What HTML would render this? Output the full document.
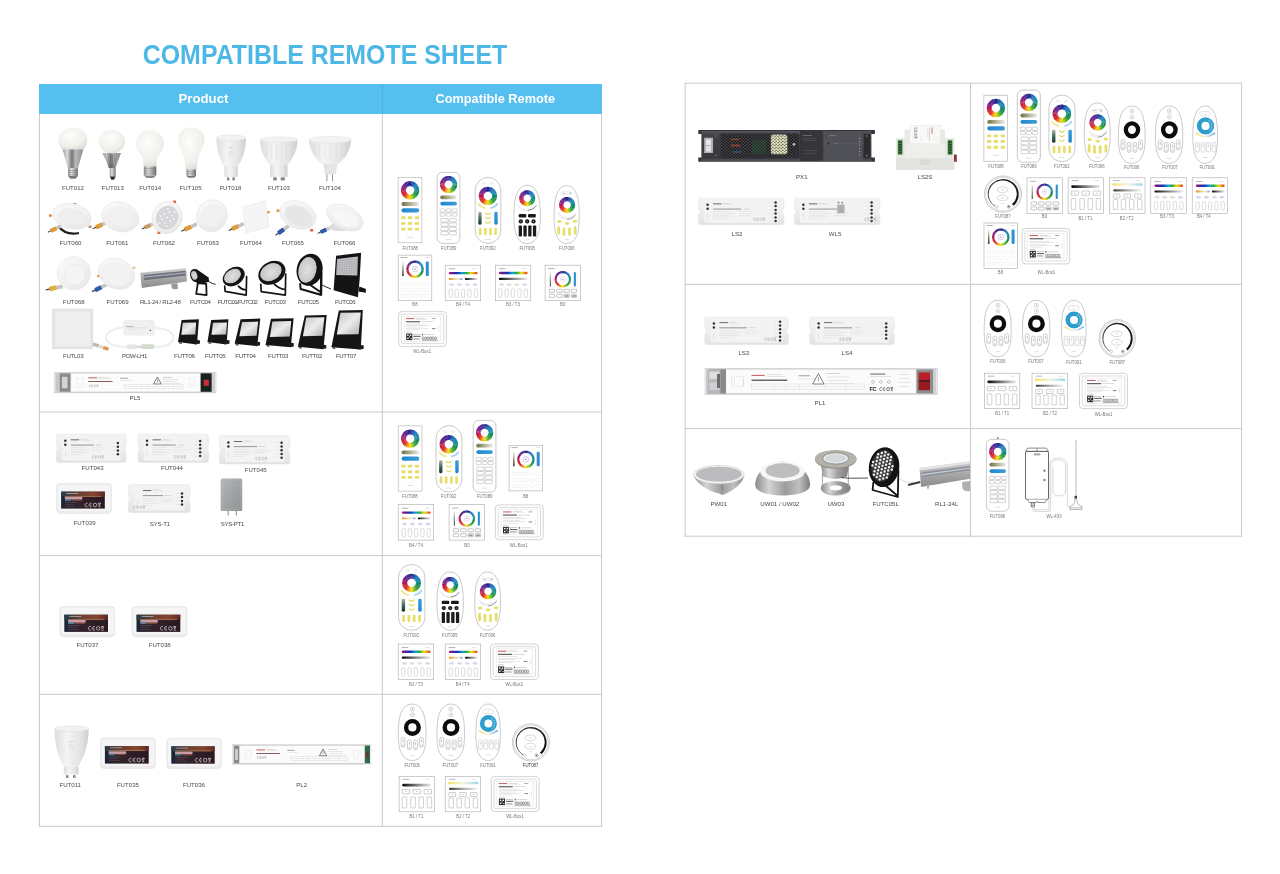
<!DOCTYPE html><html><head><meta charset="utf-8"><title>Compatible Remote Sheet</title><style>html,body{margin:0;padding:0;background:#fff;overflow:hidden}svg{display:block;will-change:transform;opacity:.999}text{font-family:"Liberation Sans",sans-serif}</style></head><body><svg width="1280" height="874" viewBox="0 0 1280 874"><defs><symbol id="w" overflow="visible"><path d="M-0.010,-1.000A1,1 0 0 1 0.183,-0.983L0.084,-0.452A0.46,0.46 0 0 0 -0.005,-0.460Z" fill="#1c298d"/><path d="M0.164,-0.986A1,1 0 0 1 0.351,-0.936L0.162,-0.431A0.46,0.46 0 0 0 0.075,-0.454Z" fill="#1b3d9b"/><path d="M0.333,-0.943A1,1 0 0 1 0.509,-0.861L0.234,-0.396A0.46,0.46 0 0 0 0.153,-0.434Z" fill="#1a50a8"/><path d="M0.491,-0.871A1,1 0 0 1 0.650,-0.760L0.299,-0.349A0.46,0.46 0 0 0 0.226,-0.401Z" fill="#1964b6"/><path d="M0.635,-0.772A1,1 0 0 1 0.772,-0.635L0.355,-0.292A0.46,0.46 0 0 0 0.292,-0.355Z" fill="#1878c4"/><path d="M0.760,-0.650A1,1 0 0 1 0.871,-0.491L0.401,-0.226A0.46,0.46 0 0 0 0.349,-0.299Z" fill="#157eb7"/><path d="M0.861,-0.509A1,1 0 0 1 0.943,-0.333L0.434,-0.153A0.46,0.46 0 0 0 0.396,-0.234Z" fill="#1383ab"/><path d="M0.936,-0.351A1,1 0 0 1 0.986,-0.164L0.454,-0.075A0.46,0.46 0 0 0 0.431,-0.162Z" fill="#10899e"/><path d="M0.983,-0.183A1,1 0 0 1 1.000,0.010L0.460,0.005A0.46,0.46 0 0 0 0.452,-0.084Z" fill="#0f8b8c"/><path d="M1.000,-0.010A1,1 0 0 1 0.983,0.183L0.452,0.084A0.46,0.46 0 0 0 0.460,-0.005Z" fill="#0e8874"/><path d="M0.986,0.164A1,1 0 0 1 0.936,0.351L0.431,0.162A0.46,0.46 0 0 0 0.454,0.075Z" fill="#0d855c"/><path d="M0.943,0.333A1,1 0 0 1 0.861,0.509L0.396,0.234A0.46,0.46 0 0 0 0.434,0.153Z" fill="#12894a"/><path d="M0.871,0.491A1,1 0 0 1 0.760,0.650L0.349,0.299A0.46,0.46 0 0 0 0.401,0.226Z" fill="#1d923e"/><path d="M0.772,0.635A1,1 0 0 1 0.635,0.772L0.292,0.355A0.46,0.46 0 0 0 0.355,0.292Z" fill="#289b32"/><path d="M0.650,0.760A1,1 0 0 1 0.491,0.871L0.226,0.401A0.46,0.46 0 0 0 0.299,0.349Z" fill="#44a829"/><path d="M0.509,0.861A1,1 0 0 1 0.333,0.943L0.153,0.434A0.46,0.46 0 0 0 0.234,0.396Z" fill="#70b824"/><path d="M0.351,0.936A1,1 0 0 1 0.164,0.986L0.075,0.454A0.46,0.46 0 0 0 0.162,0.431Z" fill="#9cc81e"/><path d="M0.183,0.983A1,1 0 0 1 -0.010,1.000L-0.005,0.460A0.46,0.46 0 0 0 0.084,0.452Z" fill="#d8db17"/><path d="M0.010,1.000A1,1 0 0 1 -0.183,0.983L-0.084,0.452A0.46,0.46 0 0 0 0.005,0.460Z" fill="#f6d314"/><path d="M-0.164,0.986A1,1 0 0 1 -0.351,0.936L-0.162,0.431A0.46,0.46 0 0 0 -0.075,0.454Z" fill="#f6b113"/><path d="M-0.333,0.943A1,1 0 0 1 -0.509,0.861L-0.234,0.396A0.46,0.46 0 0 0 -0.153,0.434Z" fill="#f28813"/><path d="M-0.491,0.871A1,1 0 0 1 -0.650,0.760L-0.299,0.349A0.46,0.46 0 0 0 -0.226,0.401Z" fill="#e95816"/><path d="M-0.635,0.772A1,1 0 0 1 -0.772,0.635L-0.355,0.292A0.46,0.46 0 0 0 -0.292,0.355Z" fill="#e02818"/><path d="M-0.760,0.650A1,1 0 0 1 -0.871,0.491L-0.401,0.226A0.46,0.46 0 0 0 -0.349,0.299Z" fill="#d72225"/><path d="M-0.861,0.509A1,1 0 0 1 -0.943,0.333L-0.434,0.153A0.46,0.46 0 0 0 -0.396,0.234Z" fill="#ce1d31"/><path d="M-0.936,0.351A1,1 0 0 1 -0.986,0.164L-0.454,0.075A0.46,0.46 0 0 0 -0.431,0.162Z" fill="#c5173e"/><path d="M-0.983,0.183A1,1 0 0 1 -1.000,-0.010L-0.460,-0.005A0.46,0.46 0 0 0 -0.452,0.084Z" fill="#b8154d"/><path d="M-1.000,0.010A1,1 0 0 1 -0.983,-0.183L-0.452,-0.084A0.46,0.46 0 0 0 -0.460,0.005Z" fill="#a7175e"/><path d="M-0.986,-0.164A1,1 0 0 1 -0.936,-0.351L-0.431,-0.162A0.46,0.46 0 0 0 -0.454,-0.075Z" fill="#96196f"/><path d="M-0.943,-0.333A1,1 0 0 1 -0.861,-0.509L-0.396,-0.234A0.46,0.46 0 0 0 -0.434,-0.153Z" fill="#851a7c"/><path d="M-0.871,-0.491A1,1 0 0 1 -0.760,-0.650L-0.349,-0.299A0.46,0.46 0 0 0 -0.401,-0.226Z" fill="#731b83"/><path d="M-0.772,-0.635A1,1 0 0 1 -0.635,-0.772L-0.292,-0.355A0.46,0.46 0 0 0 -0.355,-0.292Z" fill="#611c8b"/><path d="M-0.650,-0.760A1,1 0 0 1 -0.491,-0.871L-0.226,-0.401A0.46,0.46 0 0 0 -0.299,-0.349Z" fill="#4f1d92"/><path d="M-0.509,-0.861A1,1 0 0 1 -0.333,-0.943L-0.153,-0.434A0.46,0.46 0 0 0 -0.234,-0.396Z" fill="#401e8f"/><path d="M-0.351,-0.936A1,1 0 0 1 -0.164,-0.986L-0.075,-0.454A0.46,0.46 0 0 0 -0.162,-0.431Z" fill="#321e8b"/><path d="M-0.183,-0.983A1,1 0 0 1 0.010,-1.000L0.005,-0.460A0.46,0.46 0 0 0 -0.084,-0.452Z" fill="#231f88"/></symbol>
<symbol id="wt" overflow="visible"><path d="M-0.010,-1.000A1,1 0 0 1 0.183,-0.983L0.136,-0.727A0.74,0.74 0 0 0 -0.007,-0.740Z" fill="#1c298d"/><path d="M0.164,-0.986A1,1 0 0 1 0.351,-0.936L0.260,-0.693A0.74,0.74 0 0 0 0.121,-0.730Z" fill="#1b3d9b"/><path d="M0.333,-0.943A1,1 0 0 1 0.509,-0.861L0.376,-0.637A0.74,0.74 0 0 0 0.246,-0.698Z" fill="#1a50a8"/><path d="M0.491,-0.871A1,1 0 0 1 0.650,-0.760L0.481,-0.562A0.74,0.74 0 0 0 0.364,-0.645Z" fill="#1964b6"/><path d="M0.635,-0.772A1,1 0 0 1 0.772,-0.635L0.572,-0.470A0.74,0.74 0 0 0 0.470,-0.572Z" fill="#1878c4"/><path d="M0.760,-0.650A1,1 0 0 1 0.871,-0.491L0.645,-0.364A0.74,0.74 0 0 0 0.562,-0.481Z" fill="#157eb7"/><path d="M0.861,-0.509A1,1 0 0 1 0.943,-0.333L0.698,-0.246A0.74,0.74 0 0 0 0.637,-0.376Z" fill="#1383ab"/><path d="M0.936,-0.351A1,1 0 0 1 0.986,-0.164L0.730,-0.121A0.74,0.74 0 0 0 0.693,-0.260Z" fill="#10899e"/><path d="M0.983,-0.183A1,1 0 0 1 1.000,0.010L0.740,0.007A0.74,0.74 0 0 0 0.727,-0.136Z" fill="#0f8b8c"/><path d="M1.000,-0.010A1,1 0 0 1 0.983,0.183L0.727,0.136A0.74,0.74 0 0 0 0.740,-0.007Z" fill="#0e8874"/><path d="M0.986,0.164A1,1 0 0 1 0.936,0.351L0.693,0.260A0.74,0.74 0 0 0 0.730,0.121Z" fill="#0d855c"/><path d="M0.943,0.333A1,1 0 0 1 0.861,0.509L0.637,0.376A0.74,0.74 0 0 0 0.698,0.246Z" fill="#12894a"/><path d="M0.871,0.491A1,1 0 0 1 0.760,0.650L0.562,0.481A0.74,0.74 0 0 0 0.645,0.364Z" fill="#1d923e"/><path d="M0.772,0.635A1,1 0 0 1 0.635,0.772L0.470,0.572A0.74,0.74 0 0 0 0.572,0.470Z" fill="#289b32"/><path d="M0.650,0.760A1,1 0 0 1 0.491,0.871L0.364,0.645A0.74,0.74 0 0 0 0.481,0.562Z" fill="#44a829"/><path d="M0.509,0.861A1,1 0 0 1 0.333,0.943L0.246,0.698A0.74,0.74 0 0 0 0.376,0.637Z" fill="#70b824"/><path d="M0.351,0.936A1,1 0 0 1 0.164,0.986L0.121,0.730A0.74,0.74 0 0 0 0.260,0.693Z" fill="#9cc81e"/><path d="M0.183,0.983A1,1 0 0 1 -0.010,1.000L-0.007,0.740A0.74,0.74 0 0 0 0.136,0.727Z" fill="#d8db17"/><path d="M0.010,1.000A1,1 0 0 1 -0.183,0.983L-0.136,0.727A0.74,0.74 0 0 0 0.007,0.740Z" fill="#f6d314"/><path d="M-0.164,0.986A1,1 0 0 1 -0.351,0.936L-0.260,0.693A0.74,0.74 0 0 0 -0.121,0.730Z" fill="#f6b113"/><path d="M-0.333,0.943A1,1 0 0 1 -0.509,0.861L-0.376,0.637A0.74,0.74 0 0 0 -0.246,0.698Z" fill="#f28813"/><path d="M-0.491,0.871A1,1 0 0 1 -0.650,0.760L-0.481,0.562A0.74,0.74 0 0 0 -0.364,0.645Z" fill="#e95816"/><path d="M-0.635,0.772A1,1 0 0 1 -0.772,0.635L-0.572,0.470A0.74,0.74 0 0 0 -0.470,0.572Z" fill="#e02818"/><path d="M-0.760,0.650A1,1 0 0 1 -0.871,0.491L-0.645,0.364A0.74,0.74 0 0 0 -0.562,0.481Z" fill="#d72225"/><path d="M-0.861,0.509A1,1 0 0 1 -0.943,0.333L-0.698,0.246A0.74,0.74 0 0 0 -0.637,0.376Z" fill="#ce1d31"/><path d="M-0.936,0.351A1,1 0 0 1 -0.986,0.164L-0.730,0.121A0.74,0.74 0 0 0 -0.693,0.260Z" fill="#c5173e"/><path d="M-0.983,0.183A1,1 0 0 1 -1.000,-0.010L-0.740,-0.007A0.74,0.74 0 0 0 -0.727,0.136Z" fill="#b8154d"/><path d="M-1.000,0.010A1,1 0 0 1 -0.983,-0.183L-0.727,-0.136A0.74,0.74 0 0 0 -0.740,0.007Z" fill="#a7175e"/><path d="M-0.986,-0.164A1,1 0 0 1 -0.936,-0.351L-0.693,-0.260A0.74,0.74 0 0 0 -0.730,-0.121Z" fill="#96196f"/><path d="M-0.943,-0.333A1,1 0 0 1 -0.861,-0.509L-0.637,-0.376A0.74,0.74 0 0 0 -0.698,-0.246Z" fill="#851a7c"/><path d="M-0.871,-0.491A1,1 0 0 1 -0.760,-0.650L-0.562,-0.481A0.74,0.74 0 0 0 -0.645,-0.364Z" fill="#731b83"/><path d="M-0.772,-0.635A1,1 0 0 1 -0.635,-0.772L-0.470,-0.572A0.74,0.74 0 0 0 -0.572,-0.470Z" fill="#611c8b"/><path d="M-0.650,-0.760A1,1 0 0 1 -0.491,-0.871L-0.364,-0.645A0.74,0.74 0 0 0 -0.481,-0.562Z" fill="#4f1d92"/><path d="M-0.509,-0.861A1,1 0 0 1 -0.333,-0.943L-0.246,-0.698A0.74,0.74 0 0 0 -0.376,-0.637Z" fill="#401e8f"/><path d="M-0.351,-0.936A1,1 0 0 1 -0.164,-0.986L-0.121,-0.730A0.74,0.74 0 0 0 -0.260,-0.693Z" fill="#321e8b"/><path d="M-0.183,-0.983A1,1 0 0 1 0.010,-1.000L0.007,-0.740A0.74,0.74 0 0 0 -0.136,-0.727Z" fill="#231f88"/></symbol>

<linearGradient id="gOl" x1="0" x2="1" y1="0" y2="0"><stop offset="0" stop-color="#6d6d44"/><stop offset=".55" stop-color="#b9b9a0"/><stop offset="1" stop-color="#ecece8"/></linearGradient>
<linearGradient id="gBl" x1="0" x2="1" y1="0" y2="0"><stop offset="0" stop-color="#1f86cf"/><stop offset="1" stop-color="#3d9fd8"/></linearGradient>
<linearGradient id="gOlV" x1="0" x2="0" y1="0" y2="1"><stop offset="0" stop-color="#bcb49c"/><stop offset=".5" stop-color="#3f6c5c"/><stop offset="1" stop-color="#1c2c24"/></linearGradient>
<linearGradient id="gBlV" x1="0" x2="0" y1="0" y2="1"><stop offset="0" stop-color="#3d9fd8"/><stop offset="1" stop-color="#1f86cf"/></linearGradient>
<linearGradient id="gYB" x1="0" x2="1" y1="0" y2="0"><stop offset="0" stop-color="#f3e77a"/><stop offset=".5" stop-color="#f4f2e4"/><stop offset="1" stop-color="#6fb4e6"/></linearGradient>

<symbol id="r088" overflow="visible"><rect x="0" y="0" width="23.8" height="65.2" fill="#fff" stroke="#a6a6ac" stroke-width="0.55"/><use href="#w" transform="translate(12,12.7) scale(9.1)"/><rect x="3.4" y="24.5" width="17.7" height="3.8" rx="1.9" fill="url(#gOl)"/><rect x="3.4" y="30.7" width="17.7" height="4.1" rx="2" fill="url(#gBl)"/><rect x="3.0500000000000003" y="38.75" width="4.3" height="2.9" rx="0.7" fill="#e6de68"/><rect x="9.75" y="38.75" width="4.3" height="2.9" rx="0.7" fill="#e6de68"/><rect x="16.75" y="38.75" width="4.3" height="2.9" rx="0.7" fill="#e6de68"/><rect x="3.0500000000000003" y="44.349999999999994" width="4.3" height="2.9" rx="0.7" fill="#e6de68"/><rect x="9.75" y="44.349999999999994" width="4.3" height="2.9" rx="0.7" fill="#e6de68"/><rect x="16.75" y="44.349999999999994" width="4.3" height="2.9" rx="0.7" fill="#e6de68"/><rect x="3.0500000000000003" y="50.05" width="4.3" height="2.9" rx="0.7" fill="#e6de68"/><rect x="9.75" y="50.05" width="4.3" height="2.9" rx="0.7" fill="#e6de68"/><rect x="16.75" y="50.05" width="4.3" height="2.9" rx="0.7" fill="#e6de68"/><rect x="8.80" y="59.30" width="6.4" height="0.6" fill="#cdcdd2"/></symbol>
<symbol id="r089" overflow="visible"><rect x="0" y="0" width="22.7" height="71.1" rx="5.2" fill="#fff" stroke="#a6a6ac" stroke-width="0.6"/><use href="#w" transform="translate(11.4,12.2) scale(8.6)"/><rect x="3.1" y="23.1" width="16.6" height="3.8" rx="1.9" fill="url(#gOl)"/><rect x="3.1" y="29.5" width="16.6" height="3.7" rx="1.8" fill="url(#gBl)"/><rect x="2.9000000000000004" y="36.6" width="5" height="3.2" rx="0.9" fill="#fff" stroke="#9e9e9e" stroke-width="0.45"/><rect x="8.9" y="36.6" width="5" height="3.2" rx="0.9" fill="#fff" stroke="#9e9e9e" stroke-width="0.45"/><rect x="14.899999999999999" y="36.6" width="5" height="3.2" rx="0.9" fill="#fff" stroke="#9e9e9e" stroke-width="0.45"/><rect x="2.9000000000000004" y="40.699999999999996" width="5" height="3.2" rx="0.9" fill="#fff" stroke="#9e9e9e" stroke-width="0.45"/><rect x="8.9" y="40.699999999999996" width="5" height="3.2" rx="0.9" fill="#fff" stroke="#9e9e9e" stroke-width="0.45"/><rect x="14.899999999999999" y="40.699999999999996" width="5" height="3.2" rx="0.9" fill="#fff" stroke="#9e9e9e" stroke-width="0.45"/><rect x="3.6999999999999997" y="46.3" width="7.2" height="3.4" rx="0.5" fill="#fff" stroke="#9e9e9e" stroke-width="0.45"/><rect x="11.9" y="46.3" width="7.2" height="3.4" rx="0.5" fill="#fff" stroke="#9e9e9e" stroke-width="0.45"/><rect x="3.6999999999999997" y="50.599999999999994" width="7.2" height="3.4" rx="0.5" fill="#fff" stroke="#9e9e9e" stroke-width="0.45"/><rect x="11.9" y="50.599999999999994" width="7.2" height="3.4" rx="0.5" fill="#fff" stroke="#9e9e9e" stroke-width="0.45"/><rect x="3.6999999999999997" y="54.9" width="7.2" height="3.4" rx="0.5" fill="#fff" stroke="#9e9e9e" stroke-width="0.45"/><rect x="11.9" y="54.9" width="7.2" height="3.4" rx="0.5" fill="#fff" stroke="#9e9e9e" stroke-width="0.45"/><rect x="3.6999999999999997" y="59.199999999999996" width="7.2" height="3.4" rx="0.5" fill="#fff" stroke="#9e9e9e" stroke-width="0.45"/><rect x="11.9" y="59.199999999999996" width="7.2" height="3.4" rx="0.5" fill="#fff" stroke="#9e9e9e" stroke-width="0.45"/><rect x="8.60" y="66.70" width="5.6000000000000005" height="0.6" fill="#cdcdd2"/></symbol>
<symbol id="r086" overflow="visible"><rect x="10.6" y="-2" width="1.5" height="2.2" rx="0.5" fill="#777"/><rect x="0" y="0" width="22.7" height="71.1" rx="5.2" fill="#fff" stroke="#a6a6ac" stroke-width="0.6"/><use href="#w" transform="translate(11.4,12.2) scale(8.6)"/><rect x="3.1" y="23.1" width="16.6" height="3.8" rx="1.9" fill="url(#gOl)"/><rect x="3.1" y="29.5" width="16.6" height="3.7" rx="1.8" fill="url(#gBl)"/><rect x="2.9000000000000004" y="36.6" width="5" height="3.2" rx="0.9" fill="#fff" stroke="#9e9e9e" stroke-width="0.45"/><rect x="8.9" y="36.6" width="5" height="3.2" rx="0.9" fill="#fff" stroke="#9e9e9e" stroke-width="0.45"/><rect x="14.899999999999999" y="36.6" width="5" height="3.2" rx="0.9" fill="#fff" stroke="#9e9e9e" stroke-width="0.45"/><rect x="2.9000000000000004" y="40.699999999999996" width="5" height="3.2" rx="0.9" fill="#fff" stroke="#9e9e9e" stroke-width="0.45"/><rect x="8.9" y="40.699999999999996" width="5" height="3.2" rx="0.9" fill="#fff" stroke="#9e9e9e" stroke-width="0.45"/><rect x="14.899999999999999" y="40.699999999999996" width="5" height="3.2" rx="0.9" fill="#fff" stroke="#9e9e9e" stroke-width="0.45"/><rect x="3.6999999999999997" y="46.3" width="7.2" height="3.4" rx="0.5" fill="#fff" stroke="#9e9e9e" stroke-width="0.45"/><rect x="11.9" y="46.3" width="7.2" height="3.4" rx="0.5" fill="#fff" stroke="#9e9e9e" stroke-width="0.45"/><rect x="3.6999999999999997" y="50.599999999999994" width="7.2" height="3.4" rx="0.5" fill="#fff" stroke="#9e9e9e" stroke-width="0.45"/><rect x="11.9" y="50.599999999999994" width="7.2" height="3.4" rx="0.5" fill="#fff" stroke="#9e9e9e" stroke-width="0.45"/><rect x="3.6999999999999997" y="54.9" width="7.2" height="3.4" rx="0.5" fill="#fff" stroke="#9e9e9e" stroke-width="0.45"/><rect x="11.9" y="54.9" width="7.2" height="3.4" rx="0.5" fill="#fff" stroke="#9e9e9e" stroke-width="0.45"/><rect x="3.6999999999999997" y="59.199999999999996" width="7.2" height="3.4" rx="0.5" fill="#fff" stroke="#9e9e9e" stroke-width="0.45"/><rect x="11.9" y="59.199999999999996" width="7.2" height="3.4" rx="0.5" fill="#fff" stroke="#9e9e9e" stroke-width="0.45"/><rect x="8.60" y="66.70" width="5.6000000000000005" height="0.6" fill="#cdcdd2"/></symbol>
<symbol id="r092" overflow="visible"><rect x="0" y="0" width="25.6" height="66" rx="12.8" fill="#fff" stroke="#a6a6ac" stroke-width="0.6"/><ellipse cx="8.9" cy="6" rx="1.7" ry="0.8" fill="none" stroke="#c8c8c8" stroke-width="0.4"/><ellipse cx="16.6" cy="6" rx="1.7" ry="0.8" fill="none" stroke="#c8c8c8" stroke-width="0.4"/><use href="#w" transform="translate(12.7,18.5) scale(9.1)"/><path d="M3.2,26.3Q5.2,29.6 9.6,30.6" fill="none" stroke="#f1e88c" stroke-width="1.7" stroke-linecap="round"/><path d="M15.8,30.6Q20.2,29.6 22.2,26.3" fill="none" stroke="#a9d3f1" stroke-width="1.7" stroke-linecap="round"/><rect x="3.1" y="34.3" width="3.3" height="13" rx="1.4" fill="url(#gOlV)"/><rect x="19.1" y="34.3" width="3.4" height="13" rx="1.4" fill="url(#gBlV)"/><path d="M10.399999999999999,35.6Q12.7,38.0 15.0,35.6" fill="none" stroke="#e2d84e" stroke-width="1.15" stroke-linecap="round"/><path d="M10.399999999999999,40.0Q12.7,42.4 15.0,40.0" fill="none" stroke="#e2d84e" stroke-width="1.15" stroke-linecap="round"/><path d="M10.399999999999999,44.6Q12.7,47.0 15.0,44.6" fill="none" stroke="#e2d84e" stroke-width="1.15" stroke-linecap="round"/><rect x="3.7" y="50.3" width="2.6" height="7.5" rx="1.3" fill="#e6de68"/><rect x="8.799999999999999" y="50.3" width="2.6" height="7.5" rx="1.3" fill="#e6de68"/><rect x="13.899999999999999" y="50.3" width="2.6" height="7.5" rx="1.3" fill="#e6de68"/><rect x="19.099999999999998" y="50.3" width="2.6" height="7.5" rx="1.3" fill="#e6de68"/><rect x="9.90" y="61.70" width="5.6000000000000005" height="0.6" fill="#cdcdd2"/></symbol>
<symbol id="r095" overflow="visible"><path d="M13.15,0 C20.777,0 25.3795,8.176 26.0896,22.192 C26.6156,31.536 26.3,37.376 25.9055,40.879999999999995 C24.985,51.391999999999996 20.514000000000003,58.4 13.15,58.4 C5.786,58.4 1.3150000000000002,51.391999999999996 0.3945,40.879999999999995 C0,37.376 -0.3156,31.536 0.2104,22.192 C0.9205000000000001,8.176 5.523000000000001,0 13.15,0Z" fill="#fff" stroke="#a6a6ac" stroke-width="0.6"/><use href="#w" transform="translate(13.2,13) scale(8)"/><path d="M3.2,19.6Q8,26.2 14,25.2" fill="none" stroke="#c9c9d6" stroke-width="0.7"/><path d="M14,25.2Q19.5,24.6 22.6,20.2" fill="none" stroke="#4a4a4a" stroke-width="0.7"/><rect x="4.7" y="28.8" width="7.6" height="3.4" rx="1.2" fill="#1b1b1b"/><rect x="14" y="28.8" width="7.8" height="3.4" rx="1.2" fill="#1b1b1b"/><circle cx="6.8" cy="36.2" r="2.15" fill="#1b1b1b"/><circle cx="6.8" cy="36.2" r="0.6" fill="#888"/><circle cx="13.2" cy="36.2" r="2.15" fill="#1b1b1b"/><circle cx="13.2" cy="36.2" r="0.6" fill="#888"/><circle cx="19.5" cy="36.2" r="2.15" fill="#1b1b1b"/><circle cx="19.5" cy="36.2" r="0.6" fill="#888"/><rect x="4.7" y="40.2" width="3.3" height="11" rx="0.9" fill="#1b1b1b"/><rect x="9.4" y="40.2" width="3.3" height="11" rx="0.9" fill="#1b1b1b"/><rect x="14.2" y="40.2" width="3.3" height="11" rx="0.9" fill="#1b1b1b"/><rect x="18.9" y="40.2" width="3.3" height="11" rx="0.9" fill="#1b1b1b"/><rect x="10.80" y="54.30" width="4.800000000000001" height="0.6" fill="#cdcdd2"/></symbol>
<symbol id="r096" overflow="visible"><path d="M12.55,0 C19.829,0 24.2215,8.120000000000001 24.8992,22.04 C25.401200000000003,31.32 25.1,37.12 24.7235,40.599999999999994 C23.845,51.04 19.578000000000003,58 12.55,58 C5.521999999999999,58 1.2550000000000001,51.04 0.3765,40.599999999999994 C0,37.12 -0.3012,31.32 0.2008,22.04 C0.8785000000000002,8.120000000000001 5.271000000000001,0 12.55,0Z" fill="#fff" stroke="#a6a6ac" stroke-width="0.6"/><rect x="7" y="6.3" width="11" height="2.6" rx="1.3" fill="#fff" stroke="#c4c4c4" stroke-width="0.4"/><circle cx="16.2" cy="7.6" r="0.9" fill="#9cc4ee"/><rect x="9" y="7.3" width="2" height="0.6" fill="#d88"/><use href="#w" transform="translate(13,19.3) scale(8)"/><path d="M3.4,27.4Q8,32.6 13,32.4Q18,32.4 22,27.6" fill="none" stroke="#cfcfe0" stroke-width="0.6"/><path d="M5,30.6Q9,33.9 13,33.9" fill="none" stroke="#d8d8ea" stroke-width="0.6"/><path d="M13,33.9Q18,33.9 21.5,29.4" fill="none" stroke="#555" stroke-width="0.6"/><ellipse cx="5.2" cy="36" rx="2.2" ry="1.5" fill="#e6de68"/><ellipse cx="13" cy="37.8" rx="2.3" ry="1.4" fill="#e6de68"/><ellipse cx="20.9" cy="35.7" rx="2.2" ry="1.5" fill="#e6de68"/><rect x="3.35" y="40.7" width="2.7" height="8.4" rx="1.35" fill="#e6de68"/><rect x="8.55" y="41.8" width="2.7" height="8.4" rx="1.35" fill="#e6de68"/><rect x="14.05" y="41.8" width="2.7" height="8.4" rx="1.35" fill="#e6de68"/><rect x="19.65" y="40.7" width="2.7" height="8.4" rx="1.35" fill="#e6de68"/><rect x="10.60" y="53.50" width="4.800000000000001" height="0.6" fill="#cdcdd2"/></symbol>
<symbol id="r006" overflow="visible"><path d="M13.75,0 C21.725,0 26.537499999999998,7.910000000000001 27.28,21.47 C27.830000000000002,30.51 27.5,36.160000000000004 27.0875,39.55 C26.125,49.72 21.450000000000003,56.5 13.75,56.5 C6.049999999999999,56.5 1.375,49.72 0.4125,39.55 C0,36.160000000000004 -0.33,30.51 0.22,21.47 C0.9625000000000001,7.910000000000001 5.775,0 13.75,0Z" fill="#fff" stroke="#a6a6ac" stroke-width="0.6"/><circle cx="14" cy="5" r="2.1" fill="#fff" stroke="#aaa" stroke-width="0.45"/><circle cx="14" cy="10.9" r="2.1" fill="#fff" stroke="#aaa" stroke-width="0.45"/><rect x="13.7" y="4" width="0.6" height="2" fill="#999"/><rect x="13" y="10.6" width="2" height="0.6" fill="#999"/><circle cx="14" cy="23.4" r="6.3" fill="none" stroke="#0c0c0c" stroke-width="4.4"/><rect x="2.8000000000000003" y="33.4" width="3.8" height="9.7" rx="1.6" fill="#fff" stroke="#9a9a9a" stroke-width="0.5"/><rect x="4.4" y="35.6" width="0.6" height="2.6" fill="#999"/><rect x="3.3000000000000003" y="40.6" width="2.8" height="1.6" rx="0.8" fill="#ddd"/><rect x="9.0" y="35.9" width="3.8" height="9.7" rx="1.6" fill="#fff" stroke="#9a9a9a" stroke-width="0.5"/><rect x="10.6" y="38.1" width="0.6" height="2.6" fill="#999"/><rect x="9.5" y="43.1" width="2.8" height="1.6" rx="0.8" fill="#ddd"/><rect x="15.200000000000001" y="35.9" width="3.8" height="9.7" rx="1.6" fill="#fff" stroke="#9a9a9a" stroke-width="0.5"/><rect x="16.8" y="38.1" width="0.6" height="2.6" fill="#999"/><rect x="15.700000000000001" y="43.1" width="2.8" height="1.6" rx="0.8" fill="#ddd"/><rect x="21.0" y="33.4" width="3.8" height="9.7" rx="1.6" fill="#fff" stroke="#9a9a9a" stroke-width="0.5"/><rect x="22.599999999999998" y="35.6" width="0.6" height="2.6" fill="#999"/><rect x="21.5" y="40.6" width="2.8" height="1.6" rx="0.8" fill="#ddd"/><rect x="11.60" y="51.20" width="4.800000000000001" height="0.6" fill="#cdcdd2"/></symbol>
<symbol id="r091" overflow="visible"><path d="M12.2,0 C19.275999999999996,0 23.546,7.910000000000001 24.2048,21.47 C24.6928,30.51 24.4,36.160000000000004 24.034,39.55 C23.179999999999996,49.72 19.032,56.5 12.2,56.5 C5.367999999999999,56.5 1.22,49.72 0.366,39.55 C0,36.160000000000004 -0.2928,30.51 0.19519999999999998,21.47 C0.854,7.910000000000001 5.1240000000000006,0 12.2,0Z" fill="#fff" stroke="#a6a6ac" stroke-width="0.6"/><rect x="6.6" y="5.4" width="11" height="4.2" rx="2.1" fill="#fff" stroke="#c8c8c8" stroke-width="0.45"/><rect x="12" y="5.4" width="0.4" height="4.2" fill="#d0d0d0"/><circle cx="12.5" cy="19.6" r="6.25" fill="none" stroke="#2d9dcd" stroke-width="4.5"/><path d="M15.2,13.9A6.25,6.25 0 0 1 15.6,25" fill="none" stroke="#8fd0ea" stroke-width="1.6" stroke-dasharray="0.8 0.9"/><path d="M3.4,26.8Q12.2,33.4 21.4,26.8" fill="none" stroke="url(#gYB)" stroke-width="1.7" stroke-linecap="round"/><rect x="2.6" y="35.9" width="3.8" height="9.4" rx="1.5" fill="#fff" stroke="#b4b4b4" stroke-width="0.5"/><rect x="4.2" y="38" width="0.6" height="2.4" fill="#bbb"/><rect x="8.1" y="35.9" width="3.8" height="9.4" rx="1.5" fill="#fff" stroke="#b4b4b4" stroke-width="0.5"/><rect x="9.7" y="38" width="0.6" height="2.4" fill="#bbb"/><rect x="13.5" y="35.9" width="3.8" height="9.4" rx="1.5" fill="#fff" stroke="#b4b4b4" stroke-width="0.5"/><rect x="15.1" y="38" width="0.6" height="2.4" fill="#bbb"/><rect x="19.0" y="35.9" width="3.8" height="9.4" rx="1.5" fill="#fff" stroke="#b4b4b4" stroke-width="0.5"/><rect x="20.599999999999998" y="38" width="0.6" height="2.4" fill="#bbb"/><rect x="9.90" y="50.60" width="4.800000000000001" height="0.6" fill="#cdcdd2"/></symbol>
<linearGradient id="gDial" x1="0" x2="1" y1="1" y2="0"><stop offset="0" stop-color="#cfcfcf"/><stop offset=".45" stop-color="#555"/><stop offset="1" stop-color="#0a0a0a"/></linearGradient>
<symbol id="r087" overflow="visible"><circle cx="19.1" cy="19.2" r="18.6" fill="#fff" stroke="#9a9a9a" stroke-width="0.5"/><circle cx="19.1" cy="19.2" r="17.3" fill="none" stroke="#a4a4a4" stroke-width="0.45"/><path d="M11.39,31.78A14.75,14.75 0 0 1 7.33,28.09" fill="none" stroke="#545454" stroke-width="0.86"/><path d="M7.49,28.30A14.75,14.75 0 0 1 4.97,23.42" fill="none" stroke="#4c4c4c" stroke-width="0.91"/><path d="M5.04,23.67A14.75,14.75 0 0 1 4.38,18.23" fill="none" stroke="#454545" stroke-width="0.98"/><path d="M4.37,18.48A14.75,14.75 0 0 1 5.65,13.15" fill="none" stroke="#3e3e3e" stroke-width="1.06"/><path d="M5.54,13.39A14.75,14.75 0 0 1 8.61,8.84" fill="none" stroke="#383838" stroke-width="1.15"/><path d="M8.43,9.02A14.75,14.75 0 0 1 12.88,5.82" fill="none" stroke="#323232" stroke-width="1.24"/><path d="M12.65,5.93A14.75,14.75 0 0 1 17.94,4.50" fill="none" stroke="#2c2c2c" stroke-width="1.35"/><path d="M17.69,4.52A14.75,14.75 0 0 1 23.15,5.02" fill="none" stroke="#262626" stroke-width="1.46"/><path d="M22.90,4.95A14.75,14.75 0 0 1 27.84,7.32" fill="none" stroke="#212121" stroke-width="1.57"/><path d="M27.64,7.17A14.75,14.75 0 0 1 31.44,11.12" fill="none" stroke="#1d1d1d" stroke-width="1.69"/><path d="M31.30,10.91A14.75,14.75 0 0 1 33.48,15.94" fill="none" stroke="#191919" stroke-width="1.82"/><path d="M33.43,15.69A14.75,14.75 0 0 1 33.72,21.16" fill="none" stroke="#151515" stroke-width="1.95"/><path d="M33.75,20.91A14.75,14.75 0 0 1 32.11,26.14" fill="none" stroke="#121212" stroke-width="2.09"/><path d="M32.23,25.91A14.75,14.75 0 0 1 28.87,30.25" fill="none" stroke="#101010" stroke-width="2.23"/><ellipse cx="18.6" cy="14.7" rx="5.4" ry="2.9" fill="#fff" stroke="#aaa" stroke-width="0.45"/><ellipse cx="18.6" cy="23" rx="5.4" ry="2.9" fill="#fff" stroke="#aaa" stroke-width="0.45"/><rect x="17.4" y="14.4" width="2.4" height="0.5" fill="#aaa"/><rect x="17.4" y="22.8" width="2.4" height="0.5" fill="#aaa"/><circle cx="12.9" cy="32.1" r="1.4" fill="#fff" stroke="#999" stroke-width="0.45"/><circle cx="24.8" cy="32.1" r="1.4" fill="#fff" stroke="#555" stroke-width="0.45"/><circle cx="24.8" cy="32.1" r="0.6" fill="#333"/><rect x="17.00" y="28.30" width="3.2" height="0.6" fill="#cdcdd2"/></symbol>

<linearGradient id="gRb" x1="0" x2="1" y1="0" y2="0"><stop offset="0" stop-color="#c81a6a"/><stop offset=".12" stop-color="#5a1a90"/><stop offset=".3" stop-color="#1436b8"/><stop offset=".48" stop-color="#12a6cc"/><stop offset=".62" stop-color="#1ea844"/><stop offset=".78" stop-color="#e8e020"/><stop offset=".9" stop-color="#f08a18"/><stop offset="1" stop-color="#e02a20"/></linearGradient>
<linearGradient id="gKW" x1="0" x2="1" y1="0" y2="0"><stop offset="0" stop-color="#080808"/><stop offset=".55" stop-color="#8a8a8a"/><stop offset="1" stop-color="#ececec"/></linearGradient>
<linearGradient id="gGW" x1="0" x2="1" y1="0" y2="0"><stop offset="0" stop-color="#3c3c3c"/><stop offset=".5" stop-color="#a8a8a8"/><stop offset="1" stop-color="#f4f4f4"/></linearGradient>
<linearGradient id="gOW" x1="0" x2="1" y1="0" y2="0"><stop offset="0" stop-color="#e88a10"/><stop offset=".45" stop-color="#f0d890"/><stop offset=".75" stop-color="#e8ecf0"/><stop offset="1" stop-color="#7a8ea8"/></linearGradient>
<linearGradient id="gYC" x1="0" x2="1" y1="0" y2="0"><stop offset="0" stop-color="#efe566"/><stop offset=".5" stop-color="#f4f4e4"/><stop offset="1" stop-color="#9cd8e8"/></linearGradient>
<linearGradient id="gVs" x1="0" x2="0" y1="0" y2="1"><stop offset="0" stop-color="#e8b8c8"/><stop offset=".45" stop-color="#4a4a40"/><stop offset="1" stop-color="#b8c848"/></linearGradient>
<linearGradient id="gVo" x1="0" x2="0" y1="0" y2="1"><stop offset="0" stop-color="#e8e8e0"/><stop offset=".6" stop-color="#7a7a50"/><stop offset="1" stop-color="#3c4428"/></linearGradient>

<symbol id="pB8" overflow="visible"><rect x="0" y="0" width="33.6" height="45.6" fill="#fff" stroke="#aaaaae" stroke-width="0.6"/><rect x="2.2" y="2.05" width="6.6" height="0.7" fill="#7a7a7a" opacity="0.8"/><rect x="27" y="2.15" width="4.2" height="0.5" fill="#c4c4c4"/><path d="M4.2,6.4L5.2,6.4L5.6,21L3.9,21Z" fill="url(#gVo)"/><use href="#wt" transform="translate(16.8,14.1) scale(8.7)"/><circle cx="16.8" cy="14.1" r="2.7" fill="none" stroke="#a088d0" stroke-width="0.45"/><circle cx="16.8" cy="14.1" r="0.6" fill="#666"/><rect x="27.6" y="6.4" width="3" height="14.6" rx="1.2" fill="#2b8fd2"/><rect x="2.8000000000000003" y="27.0" width="4.2" height="3.2" rx="1.1" fill="#fff" stroke="#f2dce0" stroke-width="0.5"/><rect x="8.8" y="27.0" width="4.2" height="3.2" rx="1.1" fill="#fff" stroke="#dce8f2" stroke-width="0.5"/><rect x="14.700000000000001" y="27.0" width="4.2" height="3.2" rx="1.1" fill="#fff" stroke="#dcecd8" stroke-width="0.5"/><rect x="20.7" y="27.0" width="4.2" height="3.2" rx="1.1" fill="#fff" stroke="#f2ecd4" stroke-width="0.5"/><rect x="26.599999999999998" y="27.0" width="4.2" height="3.2" rx="1.1" fill="#fff" stroke="#e8dff2" stroke-width="0.5"/><rect x="2.8000000000000003" y="33.1" width="4.2" height="3.2" rx="1.1" fill="#fff" stroke="#e6e6e6" stroke-width="0.5"/><rect x="8.8" y="33.1" width="4.2" height="3.2" rx="1.1" fill="#fff" stroke="#e6e6e6" stroke-width="0.5"/><rect x="14.700000000000001" y="33.1" width="4.2" height="3.2" rx="1.1" fill="#fff" stroke="#e6e6e6" stroke-width="0.5"/><rect x="20.7" y="33.1" width="4.2" height="3.2" rx="1.1" fill="#fff" stroke="#e6e6e6" stroke-width="0.5"/><rect x="26.599999999999998" y="33.1" width="4.2" height="3.2" rx="1.1" fill="#fff" stroke="#e6e6e6" stroke-width="0.5"/><rect x="2.8000000000000003" y="39.1" width="4.2" height="3.2" rx="1.1" fill="#fff" stroke="#e6e6e6" stroke-width="0.5"/><rect x="8.8" y="39.1" width="4.2" height="3.2" rx="1.1" fill="#fff" stroke="#e6e6e6" stroke-width="0.5"/><rect x="14.700000000000001" y="39.1" width="4.2" height="3.2" rx="1.1" fill="#fff" stroke="#e6e6e6" stroke-width="0.5"/><rect x="20.7" y="39.1" width="4.2" height="3.2" rx="1.1" fill="#fff" stroke="#e6e6e6" stroke-width="0.5"/><rect x="26.599999999999998" y="39.1" width="4.2" height="3.2" rx="1.1" fill="#fff" stroke="#e6e6e6" stroke-width="0.5"/></symbol>
<symbol id="pB4" overflow="visible"><rect x="0" y="0" width="35.5" height="35.5" fill="#fff" stroke="#aaaaae" stroke-width="0.6"/><rect x="3.6" y="3.25" width="6.6" height="0.7" fill="#7a7a7a" opacity="0.8"/><rect x="27" y="3.35" width="4.2" height="0.5" fill="#c4c4c4"/><rect x="3.6" y="6.8" width="28.8" height="2.3" rx="1.1" fill="url(#gRb)"/><rect x="3.6" y="12.8" width="13.7" height="1.9" rx="0.9" fill="url(#gOW)"/><rect x="19.7" y="12.8" width="12.7" height="1.9" rx="0.9" fill="url(#gKW)"/><rect x="4.1000000000000005" y="18.2" width="4.6" height="2.4" rx="1.2" fill="#c4c8e0" opacity="0.7"/><rect x="12.0" y="18.2" width="4.6" height="2.4" rx="1.2" fill="#c8c8d8" opacity="0.7"/><rect x="19.9" y="18.2" width="4.6" height="2.4" rx="1.2" fill="#d4c8dc" opacity="0.7"/><rect x="27.5" y="18.2" width="4.6" height="2.4" rx="1.2" fill="#b8c8e4" opacity="0.7"/><rect x="3.85" y="23.8" width="3.3" height="8.50" rx="1.5" fill="#fff" stroke="#b8b8b8" stroke-width="0.5"/><rect x="9.95" y="23.8" width="3.3" height="8.50" rx="1.5" fill="#fff" stroke="#b8b8b8" stroke-width="0.5"/><rect x="16.25" y="23.8" width="3.3" height="8.50" rx="1.5" fill="#fff" stroke="#b8b8b8" stroke-width="0.5"/><rect x="22.55" y="23.8" width="3.3" height="8.50" rx="1.5" fill="#fff" stroke="#b8b8b8" stroke-width="0.5"/><rect x="28.95" y="23.8" width="3.3" height="8.50" rx="1.5" fill="#fff" stroke="#b8b8b8" stroke-width="0.5"/></symbol>
<symbol id="pB3" overflow="visible"><rect x="0" y="0" width="35.5" height="35.5" fill="#fff" stroke="#aaaaae" stroke-width="0.6"/><rect x="3.6" y="3.25" width="6.6" height="0.7" fill="#7a7a7a" opacity="0.8"/><rect x="27" y="3.35" width="4.2" height="0.5" fill="#c4c4c4"/><rect x="3.6" y="6.6" width="28.6" height="2.5" rx="1.2" fill="url(#gRb)"/><rect x="3.6" y="12.6" width="28.6" height="2.1" rx="1" fill="url(#gKW)"/><rect x="3.8000000000000003" y="18.2" width="4.8" height="2.4" rx="1.2" fill="#d0d0d4" opacity="0.75"/><rect x="11.299999999999999" y="18.2" width="4.8" height="2.4" rx="1.2" fill="#d0d0d8" opacity="0.75"/><rect x="19.200000000000003" y="18.2" width="4.8" height="2.4" rx="1.2" fill="#c8dcc8" opacity="0.75"/><rect x="27.1" y="18.2" width="4.8" height="2.4" rx="1.2" fill="#d0c8e8" opacity="0.75"/><rect x="3.35" y="23.6" width="3.3" height="8.60" rx="1.5" fill="#fff" stroke="#b8b8b8" stroke-width="0.5"/><rect x="9.75" y="23.6" width="3.3" height="8.60" rx="1.5" fill="#fff" stroke="#b8b8b8" stroke-width="0.5"/><rect x="15.95" y="23.6" width="3.3" height="8.60" rx="1.5" fill="#fff" stroke="#b8b8b8" stroke-width="0.5"/><rect x="22.45" y="23.6" width="3.3" height="8.60" rx="1.5" fill="#fff" stroke="#b8b8b8" stroke-width="0.5"/><rect x="28.85" y="23.6" width="3.3" height="8.60" rx="1.5" fill="#fff" stroke="#b8b8b8" stroke-width="0.5"/></symbol>
<symbol id="pB0" overflow="visible"><rect x="0" y="0" width="35.5" height="35.5" fill="#fff" stroke="#aaaaae" stroke-width="0.6"/><rect x="2.8" y="3.05" width="6.6" height="0.7" fill="#7a7a7a" opacity="0.8"/><rect x="4.7" y="6.8" width="1.1" height="14.4" rx="0.5" fill="url(#gVo)"/><use href="#wt" transform="translate(17.7,14) scale(8.2)"/><circle cx="17.7" cy="14" r="2.4" fill="none" stroke="#c8a8d8" stroke-width="0.45"/><circle cx="17.7" cy="14" r="0.55" fill="#666"/><rect x="28.7" y="6.8" width="2.1" height="14.4" rx="1" fill="#2b8fd2"/><rect x="4.1" y="24.1" width="5.4" height="3.1" rx="0.5" fill="#fff" stroke="#8c8c8c" stroke-width="0.5"/><rect x="11.600000000000001" y="24.1" width="5.4" height="3.1" rx="0.5" fill="#fff" stroke="#8c8c8c" stroke-width="0.5"/><rect x="18.8" y="24.1" width="5.4" height="3.1" rx="0.5" fill="#fff" stroke="#8c8c8c" stroke-width="0.5"/><rect x="26.2" y="24.1" width="5.4" height="3.1" rx="0.5" fill="#fff" stroke="#8c8c8c" stroke-width="0.5"/><rect x="4.1" y="29.1" width="5.4" height="3.1" rx="0.5" fill="#fff" stroke="#8c8c8c" stroke-width="0.5"/><rect x="11.600000000000001" y="29.1" width="5.4" height="3.1" rx="0.5" fill="#fff" stroke="#8c8c8c" stroke-width="0.5"/><rect x="18.8" y="29.1" width="5.4" height="3.1" rx="0.5" fill="#fff" stroke="#8c8c8c" stroke-width="0.5"/><rect x="26.2" y="29.1" width="5.4" height="3.1" rx="0.5" fill="#fff" stroke="#8c8c8c" stroke-width="0.5"/><rect x="19.6" y="30" width="3.8" height="1.6" fill="#9a9a9a"/><rect x="27" y="30" width="3.8" height="1.6" fill="#9a9a9a"/></symbol>
<symbol id="pB1" overflow="visible"><rect x="0" y="0" width="35.5" height="35.5" fill="#fff" stroke="#aaaaae" stroke-width="0.6"/><rect x="3.6" y="2.55" width="6.6" height="0.7" fill="#7a7a7a" opacity="0.8"/><rect x="26.4" y="2.65" width="4.2" height="0.5" fill="#c4c4c4"/><rect x="3.1" y="7.4" width="28.9" height="2.7" rx="1.3" fill="url(#gKW)"/><rect x="3.1" y="13.2" width="7.4" height="4.3" rx="0.4" fill="#fff" stroke="#9a9a9a" stroke-width="0.5"/><rect x="6.0" y="15.1" width="1.6" height="0.5" fill="#999"/><rect x="14" y="13.2" width="7.4" height="4.3" rx="0.4" fill="#fff" stroke="#9a9a9a" stroke-width="0.5"/><rect x="16.9" y="15.1" width="1.6" height="0.5" fill="#999"/><rect x="25" y="13.2" width="7.4" height="4.3" rx="0.4" fill="#fff" stroke="#9a9a9a" stroke-width="0.5"/><rect x="27.9" y="15.1" width="1.6" height="0.5" fill="#999"/><rect x="3.1" y="20.7" width="4.5" height="10.9" rx="0.3" fill="#fff" stroke="#a4a4a4" stroke-width="0.5"/><rect x="11.7" y="20.7" width="4.5" height="10.9" rx="0.3" fill="#fff" stroke="#a4a4a4" stroke-width="0.5"/><rect x="19.9" y="20.7" width="4.5" height="10.9" rx="0.3" fill="#fff" stroke="#a4a4a4" stroke-width="0.5"/><rect x="28.1" y="20.7" width="4.5" height="10.9" rx="0.3" fill="#fff" stroke="#a4a4a4" stroke-width="0.5"/></symbol>
<symbol id="pB2" overflow="visible"><rect x="0" y="0" width="35.5" height="35.5" fill="#fff" stroke="#aaaaae" stroke-width="0.6"/><rect x="3.6" y="2.55" width="6.6" height="0.7" fill="#8a78b8" opacity="0.8"/><rect x="26.4" y="2.65" width="4.2" height="0.5" fill="#c4c4c4"/><rect x="2.7" y="5.4" width="30.5" height="2.5" rx="1.2" fill="url(#gYC)"/><rect x="3.8" y="11.5" width="28" height="2.1" rx="1" fill="url(#gGW)"/><rect x="3.8" y="16.2" width="6.6" height="4.1" rx="0.4" fill="#fff" stroke="#9a9a9a" stroke-width="0.5"/><rect x="6.3" y="18" width="1.6" height="0.5" fill="#999"/><rect x="14.5" y="16.2" width="6.6" height="4.1" rx="0.4" fill="#fff" stroke="#9a9a9a" stroke-width="0.5"/><rect x="17.0" y="18" width="1.6" height="0.5" fill="#999"/><rect x="25.2" y="16.2" width="6.6" height="4.1" rx="0.4" fill="#fff" stroke="#9a9a9a" stroke-width="0.5"/><rect x="27.7" y="18" width="1.6" height="0.5" fill="#999"/><rect x="3.8" y="21.8" width="4.4" height="9.8" rx="0.3" fill="#fff" stroke="#a4a4a4" stroke-width="0.5"/><rect x="11.8" y="21.8" width="4.4" height="9.8" rx="0.3" fill="#fff" stroke="#a4a4a4" stroke-width="0.5"/><rect x="19.9" y="21.8" width="4.4" height="9.8" rx="0.3" fill="#fff" stroke="#a4a4a4" stroke-width="0.5"/><rect x="28" y="21.8" width="4.4" height="9.8" rx="0.3" fill="#fff" stroke="#a4a4a4" stroke-width="0.5"/></symbol>
<symbol id="wlbox" overflow="visible"><rect x="0" y="0" width="47.8" height="34.8" rx="3.2" fill="#fff" stroke="#b0b0b0" stroke-width="0.55"/><rect x="2.7" y="2.6" width="42.4" height="29.4" rx="1.6" fill="#fff" stroke="#b8b8b8" stroke-width="0.5"/><rect x="5.6" y="4.8" width="36.4" height="24.8" fill="#fff" stroke="#cfcfcf" stroke-width="0.35"/><rect x="7.5" y="6.6" width="8.5" height="0.9" fill="#b8484a"/><rect x="17.5" y="6.5" width="9" height="0.5" fill="#bbb"/><rect x="17.5" y="7.6" width="12" height="0.4" fill="#ccc"/><rect x="33" y="6.6" width="4" height="0.8" fill="#999"/><rect x="7.5" y="9.6" width="14" height="1.1" fill="#555"/><rect x="22.5" y="9.9" width="12" height="0.5" fill="#bbb"/><rect x="7.5" y="12.30" width="20" height="0.4" fill="#c4c4c4"/><rect x="7.5" y="13.75" width="24" height="0.4" fill="#c4c4c4"/><rect x="7.5" y="15.20" width="17" height="0.4" fill="#c4c4c4"/><rect x="7.5" y="16.65" width="22" height="0.4" fill="#c4c4c4"/><rect x="7.5" y="18.10" width="14" height="0.4" fill="#c4c4c4"/><rect x="33.2" y="16.6" width="3.6" height="0.9" fill="#777"/><path d="M40.4,14.4q-1.6,2.8 0,5.6" fill="none" stroke="#bbb" stroke-width="0.4"/><rect x="7.5" y="20.2" width="6" height="0.5" fill="#aaa"/><rect x="7.6" y="22" width="6.1" height="6.5" fill="#2a2a2a"/><rect x="8.6" y="23" width="1.4" height="1.4" fill="#fff"/><rect x="11.3" y="23" width="1.4" height="1.4" fill="#fff"/><rect x="8.6" y="26" width="1.4" height="1.4" fill="#fff"/><rect x="10.4" y="24.8" width="1" height="1" fill="#fff"/><rect x="12" y="26.4" width="1" height="1" fill="#fff"/><rect x="14.6" y="22.6" width="7" height="0.5" fill="#999"/><rect x="14.6" y="24.2" width="7.5" height="1" fill="#555"/><rect x="14.6" y="26.4" width="6.5" height="0.5" fill="#888"/><rect x="14.6" y="27.6" width="7" height="0.5" fill="#999"/><rect x="23.4" y="22.2" width="0.9" height="1.6" fill="#333"/><rect x="25" y="22.8" width="11" height="0.45" fill="#aaa"/><rect x="23.4" y="25.4" width="15.5" height="2.6" fill="#fff"/><rect x="23.6" y="25.4" width="1.8" height="2.4" rx="0.3" fill="none" stroke="#444" stroke-width="0.45"/><rect x="26.2" y="25.4" width="1.8" height="2.4" rx="0.3" fill="none" stroke="#444" stroke-width="0.45"/><rect x="28.8" y="25.4" width="1.8" height="2.4" rx="0.3" fill="none" stroke="#444" stroke-width="0.45"/><rect x="31.2" y="25.4" width="1.8" height="2.4" rx="0.3" fill="none" stroke="#444" stroke-width="0.45"/><rect x="33.6" y="25.4" width="1.8" height="2.4" rx="0.3" fill="none" stroke="#444" stroke-width="0.45"/><rect x="36.2" y="25.4" width="1.8" height="2.4" rx="0.3" fill="none" stroke="#444" stroke-width="0.45"/><rect x="23.4" y="28.3" width="15.8" height="0.5" fill="#666"/></symbol>
<symbol id="wl433" overflow="visible"><path d="M7.4,58.6L7.4,62.4Q7.4,63.3 8.4,63.3L24,63.3Q25.2,63.3 25.2,62L25.2,18.5Q25.2,11.6 32.6,11.6Q40,11.6 40,18.5L40,42Q40,47.8 33.6,47.8Q27.4,47.8 27.4,42L27.4,18.4" fill="none" stroke="#b0b0b0" stroke-width="0.5"/><path d="M8.6,58.6L8.6,61.6L23.4,61.6L23.4,18.4Q23.6,9.8 32.6,9.8Q41.8,9.8 41.8,18.4L41.8,56Q41.8,59.6 46,60.6" fill="none" stroke="#b0b0b0" stroke-width="0.5"/><path d="M2.2,0L20.8,0L23,3.3L0,3.3Z" fill="#fff" stroke="#3a3a3a" stroke-width="0.6"/><path d="M11.5,0L11.5,3.3" stroke="#3a3a3a" stroke-width="0.5"/><rect x="0" y="3.3" width="23" height="48" rx="1.4" fill="#fff" stroke="#3a3a3a" stroke-width="0.75"/><path d="M1.6,51.3L3.8,54.4L10.8,54.4L11.5,53L12.4,54.4L19.4,54.4L21.4,51.3" fill="#fff" stroke="#3a3a3a" stroke-width="0.55"/><circle cx="9.4" cy="6.3" r="0.85" fill="#fff" stroke="#3a3a3a" stroke-width="0.45"/><circle cx="11.5" cy="6.3" r="0.85" fill="#fff" stroke="#3a3a3a" stroke-width="0.45"/><circle cx="13.6" cy="6.3" r="0.85" fill="#fff" stroke="#3a3a3a" stroke-width="0.45"/><circle cx="19" cy="22.6" r="0.9" fill="#aaa" stroke="#3a3a3a" stroke-width="0.4"/><circle cx="19" cy="31.9" r="0.9" fill="#aaa" stroke="#3a3a3a" stroke-width="0.4"/><rect x="5.6" y="54.4" width="3.6" height="4.4" fill="#fff" stroke="#3a3a3a" stroke-width="0.5"/><rect x="5.6" y="55.6" width="3.6" height="0.5" fill="#3a3a3a"/><rect x="5.6" y="57" width="3.6" height="0.5" fill="#3a3a3a"/><rect x="49.8" y="-7.7" width="1" height="55.6" fill="#fff" stroke="#aaa" stroke-width="0.4"/><rect x="49.1" y="47.8" width="2.4" height="2.8" fill="#3a3a3a"/><path d="M49.4,50.6L51.2,50.6L51.8,55Q52.6,57.6 56.4,58.2L56.4,61.4L44.4,61.4L44.4,58.2Q48.2,57.6 48.8,55Z" fill="#fff" stroke="#777" stroke-width="0.5"/><rect x="44.4" y="59.6" width="12" height="0.5" fill="#777"/></symbol>

<radialGradient id="gGlobe" cx=".42" cy=".36" r=".7"><stop offset="0" stop-color="#fdfdfb"/><stop offset=".7" stop-color="#f0efeb"/><stop offset="1" stop-color="#dcdad4"/></radialGradient>
<linearGradient id="gAlu" x1="0" x2="1" y1="0" y2="0"><stop offset="0" stop-color="#9a9a9c"/><stop offset=".22" stop-color="#dcdcde"/><stop offset=".45" stop-color="#77777a"/><stop offset=".62" stop-color="#b8b8ba"/><stop offset="1" stop-color="#8c8c8e"/></linearGradient>
<linearGradient id="gScrew" x1="0" x2="1" y1="0" y2="0"><stop offset="0" stop-color="#8e8e8e"/><stop offset=".35" stop-color="#dedede"/><stop offset=".7" stop-color="#a4a4a4"/><stop offset="1" stop-color="#6c6c6c"/></linearGradient>
<linearGradient id="gWhB" x1="0" x2="1" y1="0" y2="0"><stop offset="0" stop-color="#e2e2e0"/><stop offset=".4" stop-color="#f8f8f6"/><stop offset="1" stop-color="#dcdcda"/></linearGradient>
<linearGradient id="gSpot" x1="0" x2="1" y1="0" y2="0"><stop offset="0" stop-color="#dcdcdc"/><stop offset=".35" stop-color="#f4f4f4"/><stop offset=".75" stop-color="#e4e4e4"/><stop offset="1" stop-color="#cfcfcf"/></linearGradient>
<linearGradient id="gDisk" x1="0" x2="1" y1="0" y2="1"><stop offset="0" stop-color="#fbfbfb"/><stop offset="1" stop-color="#e6e6e6"/></linearGradient>
<linearGradient id="gBar" x1="0" x2="0" y1="0" y2="1"><stop offset="0" stop-color="#d0d0d0"/><stop offset=".5" stop-color="#a8a8a8"/><stop offset="1" stop-color="#8a8a8a"/></linearGradient>
<radialGradient id="gLed" cx=".5" cy=".5" r=".6"><stop offset="0" stop-color="#dedede"/><stop offset="1" stop-color="#bcbcbc"/></radialGradient>
<linearGradient id="gGlass" x1="0" x2="1" y1="0" y2="1"><stop offset="0" stop-color="#c4c4c4"/><stop offset=".5" stop-color="#ececec"/><stop offset="1" stop-color="#b0b0b0"/></linearGradient>
<linearGradient id="gSteel" x1="0" x2="1" y1="0" y2="0"><stop offset="0" stop-color="#8e8e8e"/><stop offset=".3" stop-color="#d8d8d8"/><stop offset=".6" stop-color="#a0a0a0"/><stop offset="1" stop-color="#7c7c7c"/></linearGradient>
<pattern id="pLd" width="2.2" height="2.2" patternUnits="userSpaceOnUse"><circle cx="1.1" cy="1.1" r="0.6" fill="#f6f6f6"/></pattern>


<linearGradient id="gCtl" x1="0" x2="0" y1="0" y2="1"><stop offset="0" stop-color="#f4f4f4"/><stop offset=".5" stop-color="#eeeeee"/><stop offset="1" stop-color="#e2e2e2"/></linearGradient>
<linearGradient id="gLbl" x1="0" x2="1" y1="0" y2="0"><stop offset="0" stop-color="#1a2636"/><stop offset=".45" stop-color="#34222a"/><stop offset="1" stop-color="#2a1820"/></linearGradient>
<linearGradient id="gLblS" x1="0" x2="1" y1="0" y2="0"><stop offset="0" stop-color="#26404e"/><stop offset=".4" stop-color="#7a4834"/><stop offset=".75" stop-color="#9a5030"/><stop offset="1" stop-color="#6a2a2a"/></linearGradient>
<linearGradient id="gPT" x1="0" x2="1" y1="0" y2="1"><stop offset="0" stop-color="#b4b8b8"/><stop offset=".5" stop-color="#a0a4a4"/><stop offset="1" stop-color="#8e9292"/></linearGradient>
<linearGradient id="gPX" x1="0" x2="0" y1="0" y2="1"><stop offset="0" stop-color="#55555b"/><stop offset=".15" stop-color="#414146"/><stop offset=".9" stop-color="#38383d"/><stop offset="1" stop-color="#55555b"/></linearGradient>
<pattern id="pMesh" width="3.3" height="2.9" patternUnits="userSpaceOnUse"><rect width="3.3" height="2.9" fill="#505056"/><circle cx="0.82" cy="0.72" r="0.88" fill="#0e0e10"/><circle cx="2.47" cy="2.17" r="0.88" fill="#0e0e10"/></pattern>
<pattern id="pMeshY" width="3.3" height="2.9" patternUnits="userSpaceOnUse"><rect width="3.3" height="2.9" fill="#585a46"/><circle cx="0.82" cy="0.72" r="1.1" fill="#eef0cc"/><circle cx="2.47" cy="2.17" r="1.1" fill="#eef0cc"/></pattern>
<linearGradient id="gDome" x1="0" x2="1" y1="0" y2="0"><stop offset="0" stop-color="#8c8c8c"/><stop offset=".25" stop-color="#d4d4d4"/><stop offset=".55" stop-color="#9c9c9c"/><stop offset=".8" stop-color="#c0c0c0"/><stop offset="1" stop-color="#7e7e7e"/></linearGradient>
<pattern id="pDiag" width="1.6" height="1.6" patternUnits="userSpaceOnUse" patternTransform="rotate(-25)"><rect width="1.6" height="0.5" fill="#d8d8da" opacity=".8"/></pattern>
<pattern id="pDots" width="1.8" height="1.6" patternUnits="userSpaceOnUse"><rect width="1.8" height="1.6" fill="#b4b4b6"/><circle cx="0.9" cy="0.8" r="0.5" fill="#e4e4e6"/></pattern>
</defs>
<g opacity="0.999" id="hdrtxt">
<text x="325" y="64" font-size="27" font-weight="bold" fill="#4db7e6" text-anchor="middle" textLength="364.5" lengthAdjust="spacingAndGlyphs">COMPATIBLE REMOTE SHEET</text>
<rect x="39" y="84" width="563" height="30" fill="#55bff0"/>
<rect x="382" y="84" width="0.8" height="30" fill="#4aaede"/>
<text x="203.5" y="103.3" font-size="13.2" font-weight="bold" fill="#fff" text-anchor="middle">Product</text>
<text x="495.3" y="103.3" font-size="13.2" font-weight="bold" fill="#fff" text-anchor="middle" textLength="119.5" lengthAdjust="spacingAndGlyphs">Compatible Remote</text>
</g>
<rect x="38.9" y="114" width="1" height="712.5" fill="#c9c9c9"/>
<rect x="381.8" y="114" width="1" height="712.5" fill="#c9c9c9"/>
<rect x="601.1" y="114" width="1" height="712.5" fill="#c9c9c9"/>
<rect x="39" y="411.5" width="563" height="1" fill="#c9c9c9"/>
<rect x="39" y="555.1" width="563" height="1" fill="#c9c9c9"/>
<rect x="39" y="693.8" width="563" height="1" fill="#c9c9c9"/>
<rect x="39" y="825.8" width="563" height="1" fill="#c9c9c9"/>
<rect x="684.7" y="83" width="1" height="453.5" fill="#c9c9c9"/>
<rect x="970.0" y="83" width="1" height="453.5" fill="#c9c9c9"/>
<rect x="1241.1" y="83" width="1" height="453.5" fill="#c9c9c9"/>
<rect x="684.7" y="82.7" width="557.4" height="1" fill="#c9c9c9"/>
<rect x="684.7" y="283.8" width="557.4" height="1" fill="#c9c9c9"/>
<rect x="684.7" y="428.1" width="557.4" height="1" fill="#c9c9c9"/>
<rect x="684.7" y="535.7" width="557.4" height="1" fill="#c9c9c9"/>
<path d="M62.5,148.8L83.5,148.8L78.1,168.1L67.5,168.1Z" fill="url(#gAlu)"/>
<path d="M72.9,127.8C82,127.8 87.5,133.5 87.3,140C87.1,145 84.5,147.5 83.5,149.6L62.5,149.6C61.3,147.5 58.5,145 58.5,140C58.5,133.5 64,127.8 72.9,127.8Z" fill="url(#gGlobe)"/>
<rect x="68.1" y="168.1" width="9.7" height="8" fill="url(#gScrew)"/><path d="M68.1,176.1L77.8,176.1L75.5,178.8L70.5,178.8Z" fill="#7a7a7a"/>
<rect x="68.1" y="170" width="9.7" height="0.6" fill="#6e6e6e" opacity=".6"/>
<rect x="68.1" y="172.3" width="9.7" height="0.6" fill="#6e6e6e" opacity=".6"/>
<rect x="68.1" y="174.6" width="9.7" height="0.6" fill="#6e6e6e" opacity=".6"/>
<path d="M102.5,153.1L121,153.1L115.6,168.1L108.8,168.1Z" fill="url(#gAlu)"/>
<path d="M105,153.1L105.0,153.1L109.00,168L109.50,168Z" stroke="#66666a" stroke-width="0.5" opacity=".55"/>
<path d="M107.4,153.1L107.4,153.1L110.08,168L110.58,168Z" stroke="#66666a" stroke-width="0.5" opacity=".55"/>
<path d="M109.8,153.1L109.8,153.1L111.16,168L111.66,168Z" stroke="#66666a" stroke-width="0.5" opacity=".55"/>
<path d="M112.2,153.1L112.2,153.1L112.24,168L112.74,168Z" stroke="#66666a" stroke-width="0.5" opacity=".55"/>
<path d="M114.6,153.1L114.6,153.1L113.32,168L113.82,168Z" stroke="#66666a" stroke-width="0.5" opacity=".55"/>
<path d="M117,153.1L117.0,153.1L114.40,168L114.90,168Z" stroke="#66666a" stroke-width="0.5" opacity=".55"/>
<ellipse cx="111.8" cy="141.6" rx="13.2" ry="11.8" fill="url(#gGlobe)"/>
<rect x="109.8" y="168.1" width="5.8" height="8.5" fill="url(#gScrew)"/><path d="M109.8,176.4L115.6,176.4L114,179.8L111.4,179.8Z" fill="#2c2c2c"/>
<path d="M149.9,130C158.5,130 163.8,136.5 163.8,143.5C163.8,150.5 158.5,154.5 157,159C156.5,162 156.5,164.5 156.3,166.3L143.8,166.3C143.6,164.5 143.6,162 143.1,159C141.5,154.5 136,150.5 136,143.5C136,136.5 141.5,130 149.9,130Z" fill="url(#gGlobe)"/>
<rect x="143.8" y="166.3" width="12.5" height="9.2" fill="url(#gScrew)"/><path d="M143.8,175.5L156.3,175.5L153.5,178.1L146.5,178.1Z" fill="#8a8a8a"/>
<rect x="143.8" y="168.3" width="12.5" height="0.6" fill="#6e6e6e" opacity=".55"/>
<rect x="143.8" y="170.6" width="12.5" height="0.6" fill="#6e6e6e" opacity=".55"/>
<rect x="143.8" y="172.9" width="12.5" height="0.6" fill="#6e6e6e" opacity=".55"/>
<path d="M191.2,127.3C199.5,127.3 204.4,133 204.4,139.5C204.4,146 200,151 198.5,157C197.5,162 197.2,166 196.9,169.4L185.6,169.4C185.3,166 185,162 184,157C182.5,151 178.1,146 178.1,139.5C178.1,133 183,127.3 191.2,127.3Z" fill="url(#gGlobe)"/>
<rect x="186.5" y="169.4" width="9.5" height="6.6" fill="url(#gScrew)"/><path d="M186.5,176L196,176L194,177.8L188.5,177.8Z" fill="#777"/>
<rect x="186.5" y="171" width="9.5" height="0.6" fill="#6e6e6e" opacity=".55"/>
<rect x="186.5" y="173.2" width="9.5" height="0.6" fill="#6e6e6e" opacity=".55"/>
<path d="M216.3,137.5C216.70000000000002,153.8 221.20000000000002,161.3 224.4,166.3L237.8,166.3C241.0,161.3 245.6,153.8 246,137.5Z" fill="url(#gSpot)"/>
<ellipse cx="231.15" cy="137.8" rx="14.849999999999994" ry="2.8" fill="#f2f2f2" stroke="#dedede" stroke-width="0.5"/>
<rect x="224.4" y="166.3" width="13.400000000000006" height="10.599999999999994" rx="1" fill="url(#gSpot)"/>
<rect x="226.9" y="177.3" width="2.5" height="3.2" rx="0.8" fill="#8c8c8c"/>
<rect x="232.3" y="177.3" width="2.6999999999999886" height="3.2" rx="0.8" fill="#8c8c8c"/>
<circle cx="231" cy="153" r="1.6" fill="none" stroke="#cfcfcf" stroke-width="0.5"/><rect x="229" y="147.6" width="4" height="0.6" fill="#c4c4c4"/>
<path d="M260,139.4C260.4,153.8 266.8,160.5 270,165L287.5,165C290.7,160.5 297.1,153.8 297.5,139.4Z" fill="url(#gSpot)"/>
<ellipse cx="278.75" cy="139.70000000000002" rx="18.75" ry="2.8" fill="#f2f2f2" stroke="#dedede" stroke-width="0.5"/>
<rect x="270" y="165" width="17.5" height="11.900000000000006" rx="1" fill="url(#gSpot)"/>
<rect x="273.1" y="177.3" width="3.7999999999999545" height="3.2" rx="0.8" fill="#8c8c8c"/>
<rect x="280.6" y="177.3" width="4.399999999999977" height="3.2" rx="0.8" fill="#8c8c8c"/>
<rect x="266" y="145" width="0.5" height="14" fill="#d6d6d6" opacity=".8"/>
<rect x="271" y="145" width="0.5" height="14" fill="#d6d6d6" opacity=".8"/>
<rect x="276" y="145" width="0.5" height="14" fill="#d6d6d6" opacity=".8"/>
<rect x="281" y="145" width="0.5" height="14" fill="#d6d6d6" opacity=".8"/>
<rect x="286" y="145" width="0.5" height="14" fill="#d6d6d6" opacity=".8"/>
<rect x="291" y="145" width="0.5" height="14" fill="#d6d6d6" opacity=".8"/>
<path d="M308.8,139.5C309.5,152 318,162 321.9,163.8L338.1,163.8C342,162 350.6,152 351.3,139.5Z" fill="url(#gSpot)"/>
<ellipse cx="330" cy="139.8" rx="21.2" ry="3.4" fill="#f3f3f3" stroke="#dedede" stroke-width="0.5"/>
<path d="M323.1,163.8L337.5,163.8L335.5,174.4L325,174.4Z" fill="#e4e4e4"/>
<rect x="326.4" y="174.4" width="1" height="6.9" fill="#9a9a9a"/><rect x="332" y="174.4" width="1" height="6.9" fill="#9a9a9a"/>
<rect x="314" y="146" width="0.5" height="11" fill="#d6d6d6" opacity=".8"/>
<rect x="319" y="146" width="0.5" height="11" fill="#d6d6d6" opacity=".8"/>
<rect x="324" y="146" width="0.5" height="11" fill="#d6d6d6" opacity=".8"/>
<rect x="330" y="146" width="0.5" height="11" fill="#d6d6d6" opacity=".8"/>
<rect x="336" y="146" width="0.5" height="11" fill="#d6d6d6" opacity=".8"/>
<rect x="341" y="146" width="0.5" height="11" fill="#d6d6d6" opacity=".8"/>
<rect x="346" y="146" width="0.5" height="11" fill="#d6d6d6" opacity=".8"/>
<path d="M54.4,728.5C54.8,750.3 60.599999999999994,760.0 63.8,766.5L78.4,766.5C81.60000000000001,760.0 88.39999999999999,750.3 88.8,728.5Z" fill="url(#gSpot)"/>
<ellipse cx="71.6" cy="728.8" rx="17.2" ry="2.8" fill="#f2f2f2" stroke="#dedede" stroke-width="0.5"/>
<rect x="63.8" y="766.5" width="14.600000000000009" height="8.0" rx="1" fill="url(#gSpot)"/>
<rect x="66" y="774.9" width="2.5999999999999943" height="3.2" rx="0.8" fill="#8c8c8c"/>
<rect x="73" y="774.9" width="2.5999999999999943" height="3.2" rx="0.8" fill="#8c8c8c"/>
<circle cx="71.5" cy="747" r="2" fill="none" stroke="#cfcfcf" stroke-width="0.5"/><rect x="69" y="741" width="5" height="0.6" fill="#c8c8c8"/>
<path d="M58,226Q66,236 79,233" fill="none" stroke="#1e1e1e" stroke-width="2.2"/>
<g transform="translate(55.6,228.6) rotate(-25) scale(1.35)"><rect x="-4.2" y="-1.5" width="5" height="3" rx="0.8" fill="#e09a3a"/><rect x="0.6" y="-1.2" width="4" height="2.4" fill="#c4c4c4"/><rect x="-6.4" y="-0.4" width="2.4" height="0.8" fill="#444"/></g>
<rect x="48.9" y="214.2" width="3" height="2.6" rx="0.5" fill="#e08a48"/>
<rect x="73.1" y="202.89999999999998" width="3" height="2.6" rx="0.5" fill="#a0724a"/>
<rect x="88.5" y="225.5" width="3" height="2.6" rx="0.5" fill="#c88a60"/>
<g transform="translate(72.1,216.3) rotate(12)"><ellipse rx="19.4" ry="12.6" fill="url(#gDisk)" stroke="#e4e4e4" stroke-width="0.6"/><ellipse cx="0.5" cy="0.8" rx="13.5" ry="8.2" fill="#eeeeee" stroke="#e8e8e8" stroke-width="0.4"/></g>
<g transform="translate(101.5,224.8) rotate(-25) scale(1.4850000000000003)"><rect x="-4.2" y="-1.5" width="5" height="3" rx="0.8" fill="#e09a3a"/><rect x="0.6" y="-1.2" width="4" height="2.4" fill="#c4c4c4"/><rect x="-6.4" y="-0.4" width="2.4" height="0.8" fill="#444"/></g>
<g transform="translate(120.3,216.9) rotate(18)"><ellipse rx="18.8" ry="14.6" fill="url(#gDisk)" stroke="#e4e4e4" stroke-width="0.6"/><ellipse cx="0.8" cy="0.4" rx="13.2" ry="10" fill="#f1f1f1" stroke="#e8e8e8" stroke-width="0.4"/></g>
<g transform="translate(149.8,225.3) rotate(-25) scale(1.35)"><rect x="-4.2" y="-1.5" width="5" height="3" rx="0.8" fill="#c89a60"/><rect x="0.6" y="-1.2" width="4" height="2.4" fill="#c4c4c4"/><rect x="-6.4" y="-0.4" width="2.4" height="0.8" fill="#444"/></g>
<rect x="173.1" y="200.6" width="3" height="2.6" rx="0.5" fill="#e0603a"/>
<rect x="157.5" y="231.29999999999998" width="3" height="2.6" rx="0.5" fill="#e0603a"/>
<g transform="translate(167.1,217.5) rotate(25)"><ellipse rx="15" ry="16.4" fill="url(#gDisk)" stroke="#e2e2e2" stroke-width="0.6"/><ellipse rx="10.4" ry="11.6" fill="#d8d8dc" stroke="#c4c4c8" stroke-width="0.5"/><circle cx="0" cy="0" r="1.5" fill="#f4f4f6" stroke="#b4b4ba" stroke-width="0.35"/><circle cx="-4" cy="-2" r="1.5" fill="#f4f4f6" stroke="#b4b4ba" stroke-width="0.35"/><circle cx="4" cy="2" r="1.5" fill="#f4f4f6" stroke="#b4b4ba" stroke-width="0.35"/><circle cx="0" cy="-5.6" r="1.5" fill="#f4f4f6" stroke="#b4b4ba" stroke-width="0.35"/><circle cx="0" cy="5.6" r="1.5" fill="#f4f4f6" stroke="#b4b4ba" stroke-width="0.35"/><circle cx="-4" cy="4" r="1.5" fill="#f4f4f6" stroke="#b4b4ba" stroke-width="0.35"/><circle cx="4" cy="-4" r="1.5" fill="#f4f4f6" stroke="#b4b4ba" stroke-width="0.35"/><circle cx="-6.5" cy="1.5" r="1.5" fill="#f4f4f6" stroke="#b4b4ba" stroke-width="0.35"/><circle cx="6.5" cy="-1.5" r="1.5" fill="#f4f4f6" stroke="#b4b4ba" stroke-width="0.35"/><circle cx="-3" cy="-8" r="1.5" fill="#f4f4f6" stroke="#b4b4ba" stroke-width="0.35"/><circle cx="3" cy="8" r="1.5" fill="#f4f4f6" stroke="#b4b4ba" stroke-width="0.35"/><circle cx="-4.4" cy="8.2" r="1.5" fill="#f4f4f6" stroke="#b4b4ba" stroke-width="0.35"/><circle cx="4.4" cy="-8.2" r="1.5" fill="#f4f4f6" stroke="#b4b4ba" stroke-width="0.35"/></g>
<g transform="translate(190.4,227) rotate(-25) scale(1.5525)"><rect x="-4.2" y="-1.5" width="5" height="3" rx="0.8" fill="#e09a3a"/><rect x="0.6" y="-1.2" width="4" height="2.4" fill="#c4c4c4"/><rect x="-6.4" y="-0.4" width="2.4" height="0.8" fill="#444"/></g>
<g transform="translate(211.9,215.8) rotate(20)"><ellipse rx="15.2" ry="16.2" fill="url(#gDisk)" stroke="#e4e4e4" stroke-width="0.6"/><ellipse cx="0.6" cy="0" rx="10.5" ry="11.4" fill="#f1f1f1" stroke="#e8e8e8" stroke-width="0.4"/></g>
<g transform="translate(237.5,226.4) rotate(-25) scale(1.4850000000000003)"><rect x="-4.2" y="-1.5" width="5" height="3" rx="0.8" fill="#e09a3a"/><rect x="0.6" y="-1.2" width="4" height="2.4" fill="#c4c4c4"/><rect x="-6.4" y="-0.4" width="2.4" height="0.8" fill="#444"/></g>
<rect x="266.8" y="210.89999999999998" width="3" height="2.6" rx="0.5" fill="#e0a040"/>
<path d="M242.5,207.2L265.2,201L269,227L246.4,232.9Z" fill="#f4f5f7" stroke="#e3e4e8" stroke-width="0.6"/>
<g transform="translate(283.2,229.8) rotate(-35) scale(1.4850000000000003)"><rect x="-4.2" y="-1.5" width="5" height="3" rx="0.8" fill="#2c5aa8"/><rect x="0.6" y="-1.2" width="4" height="2.4" fill="#c4c4c4"/><rect x="-6.4" y="-0.4" width="2.4" height="0.8" fill="#444"/></g>
<rect x="276.5" y="209.29999999999998" width="3" height="2.6" rx="0.5" fill="#e09a5a"/>
<rect x="310.1" y="229.0" width="3" height="2.6" rx="0.5" fill="#e0603a"/>
<g transform="translate(298,215) rotate(22)"><ellipse rx="18.6" ry="13.6" fill="url(#gDisk)" stroke="#e4e4e4" stroke-width="0.6"/><ellipse cx="0.6" cy="0.6" rx="14.2" ry="9.4" fill="#e6e6e6" stroke="#e8e8e8" stroke-width="0.4"/></g>
<g transform="translate(325.6,229.8) rotate(-25) scale(1.35)"><rect x="-4.2" y="-1.5" width="5" height="3" rx="0.8" fill="#2c5aa8"/><rect x="0.6" y="-1.2" width="4" height="2.4" fill="#c4c4c4"/><rect x="-6.4" y="-0.4" width="2.4" height="0.8" fill="#444"/></g>
<path d="M328,228Q338,234 352,229L360,224L334,222Z" fill="#dcdce0"/>
<g transform="translate(344.8,217.5) rotate(27)"><ellipse rx="19.6" ry="11.6" fill="url(#gDisk)" stroke="#e4e4e4" stroke-width="0.6"/><ellipse cx="0.4" cy="0.4" rx="15.2" ry="8.2" fill="#f6f6f6" stroke="#e8e8e8" stroke-width="0.4"/></g>
<g transform="translate(55.6,287.8) rotate(-12) scale(1.5525)"><rect x="-4.2" y="-1.5" width="5" height="3" rx="0.8" fill="#e0b040"/><rect x="0.6" y="-1.2" width="4" height="2.4" fill="#c4c4c4"/><rect x="-6.4" y="-0.4" width="2.4" height="0.8" fill="#444"/></g>
<circle cx="73.9" cy="273.4" r="16.6" fill="url(#gDisk)" stroke="#e6e6e6" stroke-width="0.6"/><circle cx="75" cy="274.6" r="10.2" fill="#f4f4f4" stroke="#e6e6e6" stroke-width="0.5"/>
<g transform="translate(100.6,287.6) rotate(-25) scale(1.4850000000000003)"><rect x="-4.2" y="-1.5" width="5" height="3" rx="0.8" fill="#2c5aa8"/><rect x="0.6" y="-1.2" width="4" height="2.4" fill="#c4c4c4"/><rect x="-6.4" y="-0.4" width="2.4" height="0.8" fill="#444"/></g>
<rect x="97.1" y="274.7" width="3" height="2.6" rx="0.5" fill="#e09a5a"/>
<rect x="132.5" y="266.5" width="3" height="2.6" rx="0.5" fill="#e8c8a0"/>
<g transform="translate(116.6,273.8) rotate(24)"><ellipse rx="18.6" ry="14.8" fill="url(#gDisk)" stroke="#e4e4e4" stroke-width="0.6"/><ellipse cx="0.6" cy="0.4" rx="14.4" ry="11" fill="#f3f3f3" stroke="#e8e8e8" stroke-width="0.4"/></g>
<path d="M140.2,272.8L186.2,268.2L186.9,281.4L141.8,288Z" fill="url(#gBar)"/>
<path d="M143.6,275L185.6,270.8L185.8,275.4L144.4,280.2Z" fill="#6e7078"/><path d="M144,276.4L185.6,272.2L185.7,273.4L144.2,277.8Z" fill="#a8acb8"/>
<path d="M171,284L177.4,283L178,288.4Q174.6,290.2 172,288.2Z" fill="#9a9a9a"/>
<path d="M197.8,283.2L206.2,283.8L206.6,295.1L196.2,293.8Z" fill="none" stroke="#141414" stroke-width="1.8" stroke-linejoin="round"/>
<path d="M195.6,268.6L208.6,277.4L209.2,281.8L203,283.6L196.4,283Z" fill="#141414"/>
<ellipse cx="194.8" cy="275.6" rx="4.6" ry="6.6" transform="rotate(-16 194.8 275.6)" fill="#141414"/><ellipse cx="194.3" cy="275.4" rx="3" ry="4.5" transform="rotate(-16 194.3 275.4)" fill="url(#gLed)"/>
<path d="M208.6,281.4Q212,283.8 215.6,284.4" fill="none" stroke="#141414" stroke-width="0.9"/>
<path d="M224.7,286.1L225.1,291.3L246.2,295.1L246.6,276.6M238.4,286.1Q241.5,289.6 246.2,290" fill="none" stroke="#141414" stroke-width="1.7" stroke-linejoin="round" stroke-linecap="round"/>
<g transform="translate(233.7,276.6) rotate(-33)"><ellipse rx="11.8" ry="8.8" fill="#141414"/></g>
<g transform="translate(232.5,276.1) rotate(-33)"><ellipse rx="9.1" ry="6.3" fill="url(#gLed)"/><ellipse rx="9.1" ry="6.3" fill="url(#pLd)" opacity=".5"/></g>
<path d="M260.8,284.4L261.2,291.7L285.3,295.1L285.7,274.1M274.5,284.4Q279,288.6 284.8,289.5" fill="none" stroke="#141414" stroke-width="1.7" stroke-linejoin="round" stroke-linecap="round"/>
<g transform="translate(271.9,272.8) rotate(-30)"><ellipse rx="14.3" ry="11.1" fill="#141414"/></g>
<g transform="translate(270.9,272.2) rotate(-30)"><ellipse rx="11.3" ry="8.2" fill="url(#gLed)"/><ellipse rx="11.3" ry="8.2" fill="url(#pLd)" opacity=".5"/></g>
<path d="M300.2,283.9L300.6,289L320.7,294.8M321.2,273.6L320.9,294.8M311,285.5L320.4,292" fill="none" stroke="#141414" stroke-width="2.0" stroke-linejoin="round" stroke-linecap="round"/>
<g transform="translate(309.6,269.8) rotate(13)"><ellipse rx="12.9" ry="16.2" fill="#141414"/></g>
<g transform="translate(307.4,269.9) rotate(13)"><ellipse rx="8.9" ry="13" fill="url(#gLed)"/><ellipse rx="8.9" ry="13" fill="url(#pLd)" opacity=".5"/></g>
<path d="M320.2,272L322.4,272L322.2,295.4L319.8,295.4Z" fill="#141414"/>
<path d="M322,285.2L331,289" stroke="#141414" stroke-width="0.9"/>
<path d="M336.1,255.7L361.1,252.8L359.6,280L357.9,297.3L333.6,290.3Z" fill="#141414"/>
<path d="M337.1,258.9L357.9,256.6L357.3,275.5L336.1,274.9Z" fill="#bcbcc0"/>
<path d="M336.98,260.90L357.82,258.96" stroke="#8e8e94" stroke-width="0.55" opacity=".8"/>
<path d="M336.85,262.90L357.75,261.32" stroke="#8e8e94" stroke-width="0.55" opacity=".8"/>
<path d="M336.73,264.90L357.67,263.68" stroke="#8e8e94" stroke-width="0.55" opacity=".8"/>
<path d="M336.60,266.90L357.60,266.04" stroke="#8e8e94" stroke-width="0.55" opacity=".8"/>
<path d="M336.48,268.90L357.52,268.40" stroke="#8e8e94" stroke-width="0.55" opacity=".8"/>
<path d="M336.35,270.90L357.45,270.76" stroke="#8e8e94" stroke-width="0.55" opacity=".8"/>
<path d="M336.23,272.90L357.38,273.12" stroke="#8e8e94" stroke-width="0.55" opacity=".8"/>
<path d="M339.41,258.64L338.46,274.97" stroke="#d8d8dc" stroke-width="0.45" opacity=".8"/>
<path d="M341.72,258.39L340.81,275.03" stroke="#d8d8dc" stroke-width="0.45" opacity=".8"/>
<path d="M344.03,258.13L343.17,275.10" stroke="#d8d8dc" stroke-width="0.45" opacity=".8"/>
<path d="M346.34,257.88L345.52,275.16" stroke="#d8d8dc" stroke-width="0.45" opacity=".8"/>
<path d="M348.65,257.62L347.88,275.23" stroke="#d8d8dc" stroke-width="0.45" opacity=".8"/>
<path d="M350.96,257.37L350.23,275.30" stroke="#d8d8dc" stroke-width="0.45" opacity=".8"/>
<path d="M353.27,257.11L352.59,275.36" stroke="#d8d8dc" stroke-width="0.45" opacity=".8"/>
<path d="M355.58,256.86L354.94,275.43" stroke="#d8d8dc" stroke-width="0.45" opacity=".8"/>
<path d="M359.4,286.4L365.9,289L365.9,292.8L358.4,291.6Z" fill="#141414"/>
<rect x="52" y="308.6" width="41.2" height="40.6" fill="#e4e4e4"/><rect x="55" y="311.6" width="35.4" height="34.8" fill="#efefef"/>
<g transform="translate(100.5,346.6) rotate(18)"><rect x="-8" y="-1.7" width="6" height="3.4" fill="#b8b8b8"/><rect x="-2" y="-1.9" width="5" height="3.8" fill="#e8dccc"/><rect x="3" y="-1.7" width="5.4" height="3.4" fill="#dc9a50"/></g>
<path d="M124,327.5C112,328.5 106,333 106,337.5C106,342.5 113,346.8 126.4,346.8L155,346.8C168,346.8 173.4,342.5 173.4,337.5C173.4,333 167,328.5 154.4,327.5" fill="none" stroke="#ededed" stroke-width="2"/>
<rect x="123.7" y="320.6" width="30.5" height="14.6" rx="1.5" fill="#f0f0f0" stroke="#e6e6e6" stroke-width="0.5"/><rect x="127" y="327.6" width="20" height="0.5" fill="#d0d0d0"/><rect x="127" y="329.6" width="14" height="0.4" fill="#dadada"/><circle cx="150.4" cy="330.4" r="0.7" fill="#444"/><rect x="125.6" y="326" width="8" height="0.6" fill="#c88"/>
<rect x="126.4" y="344.4" width="10.6" height="4.6" rx="1.6" fill="#e6e6e6"/><rect x="141" y="344.2" width="13.2" height="4.8" rx="1.4" fill="#d4dccc"/><rect x="137" y="345.8" width="4" height="1.8" fill="#cfcfcf"/>
<path d="M181.6,319.9L198.9,319.29999999999995L197.0,344.4L178,342.0Z" fill="#151515"/>
<path d="M182.8,322.8L196.2,322.40000000000003L195.30,334.4L181.33,334.79999999999995Z" fill="url(#gGlass)"/>
<path d="M194.4,339.2L200.0,340.4L199.79999999999998,343.79999999999995L194.6,344.2Z" fill="#1b1b1b"/>
<path d="M179,341.79999999999995L182,342.4L181.8,344.0L179,343.4Z" fill="#555"/>
<path d="M211.2,319.9L228.4,319.29999999999995L226.6,344.4L207.4,342.0Z" fill="#151515"/>
<path d="M213,322.8L227,322.40000000000003L226.05,334.4L211.44,334.79999999999995Z" fill="url(#gGlass)"/>
<path d="M224.0,339.2L229.6,340.4L229.39999999999998,343.79999999999995L224.2,344.2Z" fill="#1b1b1b"/>
<path d="M208.4,341.79999999999995L211.4,342.4L211.20000000000002,344.0L208.4,343.4Z" fill="#555"/>
<path d="M240.6,319.2L260.3,318.59999999999997L257.2,346.2L234.6,343.8Z" fill="#151515"/>
<path d="M242,322L258.2,321.6L256.57,335.8L239.34,336.2Z" fill="url(#gGlass)"/>
<path d="M254.60000000000002,341.0L260.2,342.2L260.0,345.59999999999997L254.8,346.0Z" fill="#1b1b1b"/>
<path d="M235.6,343.59999999999997L238.6,344.2L238.4,345.8L235.6,345.2Z" fill="#555"/>
<path d="M271,318.8L293.6,318.2L290.79999999999995,347.3L265.5,344.90000000000003Z" fill="#151515"/>
<path d="M272.4,321.5L291.3,321.1L289.75,336.6L269.87,337.0Z" fill="url(#gGlass)"/>
<path d="M288.2,342.1L293.79999999999995,343.3L293.59999999999997,346.7L288.4,347.1Z" fill="#1b1b1b"/>
<path d="M266.5,344.7L269.5,345.3L269.3,346.90000000000003L266.5,346.3Z" fill="#555"/>
<path d="M304.8,315.6L326.7,315.0L323.4,349.2L297.8,346.8Z" fill="#151515"/>
<path d="M306.2,317.6L324.4,317.20000000000005L322.37,335.8L302.89,336.2Z" fill="url(#gGlass)"/>
<path d="M320.8,344.0L326.4,345.2L326.2,348.59999999999997L321,349.0Z" fill="#1b1b1b"/>
<path d="M298.8,346.59999999999997L301.8,347.2L301.6,348.8L298.8,348.2Z" fill="#555"/>
<path d="M338.8,310.6L362.8,310.0L360.79999999999995,349.6L331.4,347.20000000000005Z" fill="#151515"/>
<path d="M340.4,312.8L360.8,312.40000000000003L358.62,334.2L336.84,334.59999999999997Z" fill="url(#gGlass)"/>
<path d="M358.2,344.40000000000003L363.79999999999995,345.6L363.59999999999997,349.0L358.4,349.40000000000003Z" fill="#1b1b1b"/>
<path d="M332.4,347.0L335.4,347.6L335.2,349.20000000000005L332.4,348.6Z" fill="#555"/>
<path d="M58.5,434.2L123.89999999999999,434.2Q126.1,434.2 126.1,436.2L126.1,445.7L124.69999999999999,446.5L124.69999999999999,450.1L126.1,450.90000000000003L126.1,460.4Q126.1,462.4 123.89999999999999,462.4L58.5,462.4Q56.3,462.4 56.3,460.4L56.3,450.90000000000003L57.699999999999996,450.1L57.699999999999996,446.5L56.3,445.7L56.3,436.2Q56.3,434.2 58.5,434.2Z" fill="url(#gCtl)" stroke="#e0e0e0" stroke-width="0.5"/>
<rect x="61.9" y="435.8" width="58.599999999999994" height="24.599999999999998" rx="1" fill="#f3f3f3"/>
<circle cx="65.3" cy="440.80" r="1.25" fill="#24382c"/>
<circle cx="65.3" cy="444.80" r="1.25" fill="#24382c"/>
<rect x="65.0" y="450.56" width="0.5" height="6.20" fill="#d0d0d0"/>
<circle cx="117.89999999999999" cy="442.98" r="1.25" fill="#24382c"/><rect x="112.1" y="442.78" width="4" height="0.4" fill="#d4d4d4"/>
<circle cx="117.89999999999999" cy="446.73" r="1.25" fill="#24382c"/><rect x="112.1" y="446.53" width="4" height="0.4" fill="#d4d4d4"/>
<circle cx="117.89999999999999" cy="450.48" r="1.25" fill="#24382c"/><rect x="112.1" y="450.28" width="4" height="0.4" fill="#d4d4d4"/>
<circle cx="117.89999999999999" cy="454.23" r="1.25" fill="#24382c"/><rect x="112.1" y="454.03" width="4" height="0.4" fill="#d4d4d4"/>
<rect x="70.8" y="439.4" width="8.4" height="0.9" fill="#5a5a5a"/><rect x="80.8" y="439.0" width="7" height="0.4" fill="#c4c4c4"/><rect x="80.8" y="440.09999999999997" width="10" height="0.4" fill="#cfcfcf"/>
<rect x="70.8" y="444.59999999999997" width="23.0" height="0.9" fill="#8a8a8a"/><rect x="95.9" y="444.8" width="6" height="0.5" fill="#b8b8b8"/>
<rect x="70.8" y="447.60" width="14.0" height="0.4" fill="#d6d6d6"/>
<rect x="70.8" y="449.30" width="18.1" height="0.4" fill="#d6d6d6"/>
<rect x="70.8" y="451.00" width="12.6" height="0.4" fill="#d6d6d6"/>
<rect x="70.8" y="452.70" width="16.8" height="0.4" fill="#d6d6d6"/>
<rect x="70.8" y="454.40" width="10.5" height="0.4" fill="#d6d6d6"/>
<rect x="91.7" y="447.60" width="11.2" height="0.4" fill="#dadada"/>
<rect x="91.7" y="449.30" width="14.0" height="0.4" fill="#dadada"/>
<rect x="91.7" y="451.00" width="9.8" height="0.4" fill="#dadada"/>
<g transform="translate(92.596,457.0) scale(0.95)" fill="none" stroke="#9c9c9c" stroke-width="0.5"><path d="M1.6,-1.3A1.4,1.4 0 1 0 1.6,1.3"/><path d="M4.6,-1.3A1.4,1.4 0 1 0 4.6,1.3M3.3,0L4.3,0"/><circle cx="7.2" cy="0" r="1.35"/><path d="M9.6,-1.4L11.4,-1.4L10.5,0.6ZM9.6,1.4L11.4,1.4"/></g>
<path d="M140.2,434.2L206.20000000000002,434.2Q208.4,434.2 208.4,436.2L208.4,445.7L207.0,446.5L207.0,450.1L208.4,450.90000000000003L208.4,460.4Q208.4,462.4 206.20000000000002,462.4L140.2,462.4Q138,462.4 138,460.4L138,450.90000000000003L139.4,450.1L139.4,446.5L138,445.7L138,436.2Q138,434.2 140.2,434.2Z" fill="url(#gCtl)" stroke="#e0e0e0" stroke-width="0.5"/>
<rect x="143.6" y="435.8" width="59.2" height="24.599999999999998" rx="1" fill="#f3f3f3"/>
<circle cx="147" cy="440.80" r="1.25" fill="#24382c"/>
<circle cx="147" cy="444.80" r="1.25" fill="#24382c"/>
<rect x="146.7" y="450.56" width="0.5" height="6.20" fill="#d0d0d0"/>
<circle cx="200.20000000000002" cy="441.10" r="1.25" fill="#24382c"/><rect x="194.4" y="440.90" width="4" height="0.4" fill="#d4d4d4"/>
<circle cx="200.20000000000002" cy="444.85" r="1.25" fill="#24382c"/><rect x="194.4" y="444.65" width="4" height="0.4" fill="#d4d4d4"/>
<circle cx="200.20000000000002" cy="448.60" r="1.25" fill="#24382c"/><rect x="194.4" y="448.40" width="4" height="0.4" fill="#d4d4d4"/>
<circle cx="200.20000000000002" cy="452.35" r="1.25" fill="#24382c"/><rect x="194.4" y="452.15" width="4" height="0.4" fill="#d4d4d4"/>
<circle cx="200.20000000000002" cy="456.10" r="1.25" fill="#24382c"/><rect x="194.4" y="455.90" width="4" height="0.4" fill="#d4d4d4"/>
<rect x="152.5" y="439.4" width="8.4" height="0.9" fill="#5a5a5a"/><rect x="162.5" y="439.0" width="7" height="0.4" fill="#c4c4c4"/><rect x="162.5" y="440.09999999999997" width="10" height="0.4" fill="#cfcfcf"/>
<rect x="152.5" y="444.59999999999997" width="23.2" height="0.9" fill="#8a8a8a"/><rect x="177.8" y="444.8" width="6" height="0.5" fill="#b8b8b8"/>
<rect x="152.5" y="447.60" width="14.1" height="0.4" fill="#d6d6d6"/>
<rect x="152.5" y="449.30" width="18.3" height="0.4" fill="#d6d6d6"/>
<rect x="152.5" y="451.00" width="12.7" height="0.4" fill="#d6d6d6"/>
<rect x="152.5" y="452.70" width="16.9" height="0.4" fill="#d6d6d6"/>
<rect x="152.5" y="454.40" width="10.6" height="0.4" fill="#d6d6d6"/>
<rect x="173.6" y="447.60" width="11.3" height="0.4" fill="#dadada"/>
<rect x="173.6" y="449.30" width="14.1" height="0.4" fill="#dadada"/>
<rect x="173.6" y="451.00" width="9.9" height="0.4" fill="#dadada"/>
<g transform="translate(174.608,457.0) scale(0.95)" fill="none" stroke="#9c9c9c" stroke-width="0.5"><path d="M1.6,-1.3A1.4,1.4 0 1 0 1.6,1.3"/><path d="M4.6,-1.3A1.4,1.4 0 1 0 4.6,1.3M3.3,0L4.3,0"/><circle cx="7.2" cy="0" r="1.35"/><path d="M9.6,-1.4L11.4,-1.4L10.5,0.6ZM9.6,1.4L11.4,1.4"/></g>
<path d="M221.6,435.8L287.6,435.8Q289.8,435.8 289.8,437.8L289.8,447.3L288.40000000000003,448.1L288.40000000000003,451.70000000000005L289.8,452.50000000000006L289.8,462.0Q289.8,464.0 287.6,464.0L221.6,464.0Q219.4,464.0 219.4,462.0L219.4,452.50000000000006L220.8,451.70000000000005L220.8,448.1L219.4,447.3L219.4,437.8Q219.4,435.8 221.6,435.8Z" fill="url(#gCtl)" stroke="#e0e0e0" stroke-width="0.5"/>
<rect x="225.0" y="437.40000000000003" width="59.2" height="24.599999999999998" rx="1" fill="#f3f3f3"/>
<circle cx="228.4" cy="442.40" r="1.25" fill="#24382c"/>
<circle cx="228.4" cy="446.40" r="1.25" fill="#24382c"/>
<rect x="228.1" y="452.16" width="0.5" height="6.20" fill="#d0d0d0"/>
<circle cx="281.6" cy="442.70" r="1.25" fill="#24382c"/><rect x="275.8" y="442.50" width="4" height="0.4" fill="#d4d4d4"/>
<circle cx="281.6" cy="446.45" r="1.25" fill="#24382c"/><rect x="275.8" y="446.25" width="4" height="0.4" fill="#d4d4d4"/>
<circle cx="281.6" cy="450.20" r="1.25" fill="#24382c"/><rect x="275.8" y="450.00" width="4" height="0.4" fill="#d4d4d4"/>
<circle cx="281.6" cy="453.95" r="1.25" fill="#24382c"/><rect x="275.8" y="453.75" width="4" height="0.4" fill="#d4d4d4"/>
<circle cx="281.6" cy="457.70" r="1.25" fill="#24382c"/><rect x="275.8" y="457.50" width="4" height="0.4" fill="#d4d4d4"/>
<rect x="233.9" y="441.0" width="8.4" height="0.9" fill="#5a5a5a"/><rect x="243.9" y="440.6" width="7" height="0.4" fill="#c4c4c4"/><rect x="243.9" y="441.7" width="10" height="0.4" fill="#cfcfcf"/>
<rect x="233.9" y="446.2" width="23.2" height="0.9" fill="#8a8a8a"/><rect x="259.2" y="446.40000000000003" width="6" height="0.5" fill="#b8b8b8"/>
<rect x="233.9" y="449.20" width="14.1" height="0.4" fill="#d6d6d6"/>
<rect x="233.9" y="450.90" width="18.3" height="0.4" fill="#d6d6d6"/>
<rect x="233.9" y="452.60" width="12.7" height="0.4" fill="#d6d6d6"/>
<rect x="233.9" y="454.30" width="16.9" height="0.4" fill="#d6d6d6"/>
<rect x="233.9" y="456.00" width="10.6" height="0.4" fill="#d6d6d6"/>
<rect x="255.0" y="449.20" width="11.3" height="0.4" fill="#dadada"/>
<rect x="255.0" y="450.90" width="14.1" height="0.4" fill="#dadada"/>
<rect x="255.0" y="452.60" width="9.9" height="0.4" fill="#dadada"/>
<g transform="translate(256.00800000000004,458.6) scale(0.95)" fill="none" stroke="#9c9c9c" stroke-width="0.5"><path d="M1.6,-1.3A1.4,1.4 0 1 0 1.6,1.3"/><path d="M4.6,-1.3A1.4,1.4 0 1 0 4.6,1.3M3.3,0L4.3,0"/><circle cx="7.2" cy="0" r="1.35"/><path d="M9.6,-1.4L11.4,-1.4L10.5,0.6ZM9.6,1.4L11.4,1.4"/></g>
<path d="M130.6,484.8L188.0,484.8Q190.2,484.8 190.2,486.8L190.2,496.09999999999997L188.79999999999998,496.9L188.79999999999998,500.5L190.2,501.3L190.2,510.6Q190.2,512.6 188.0,512.6L130.6,512.6Q128.4,512.6 128.4,510.6L128.4,501.3L129.8,500.5L129.8,496.9L128.4,496.09999999999997L128.4,486.8Q128.4,484.8 130.6,484.8Z" fill="url(#gCtl)" stroke="#e0e0e0" stroke-width="0.5"/>
<rect x="134.0" y="486.40000000000003" width="50.599999999999994" height="24.2" rx="1" fill="#f3f3f3"/>
<rect x="137.1" y="500.92" width="0.5" height="6.12" fill="#d0d0d0"/>
<circle cx="182.0" cy="493.38" r="1.25" fill="#24382c"/><rect x="176.2" y="493.18" width="4" height="0.4" fill="#d4d4d4"/>
<circle cx="182.0" cy="497.12" r="1.25" fill="#24382c"/><rect x="176.2" y="496.93" width="4" height="0.4" fill="#d4d4d4"/>
<circle cx="182.0" cy="500.88" r="1.25" fill="#24382c"/><rect x="176.2" y="500.68" width="4" height="0.4" fill="#d4d4d4"/>
<circle cx="182.0" cy="504.62" r="1.25" fill="#24382c"/><rect x="176.2" y="504.43" width="4" height="0.4" fill="#d4d4d4"/>
<rect x="142.9" y="490.0" width="8.4" height="0.9" fill="#5a5a5a"/><rect x="152.9" y="489.6" width="7" height="0.4" fill="#c4c4c4"/><rect x="152.9" y="490.7" width="10" height="0.4" fill="#cfcfcf"/>
<rect x="142.9" y="495.2" width="20.4" height="0.9" fill="#8a8a8a"/><rect x="165.1" y="495.40000000000003" width="6" height="0.5" fill="#b8b8b8"/>
<rect x="142.9" y="498.20" width="12.4" height="0.4" fill="#d6d6d6"/>
<rect x="142.9" y="499.90" width="16.1" height="0.4" fill="#d6d6d6"/>
<rect x="142.9" y="501.60" width="11.1" height="0.4" fill="#d6d6d6"/>
<rect x="142.9" y="503.30" width="14.8" height="0.4" fill="#d6d6d6"/>
<rect x="142.9" y="505.00" width="9.3" height="0.4" fill="#d6d6d6"/>
<rect x="161.4" y="498.20" width="9.9" height="0.4" fill="#dadada"/>
<rect x="161.4" y="499.90" width="12.4" height="0.4" fill="#dadada"/>
<rect x="161.4" y="501.60" width="8.7" height="0.4" fill="#dadada"/>
<g transform="translate(134,507.20000000000005) scale(0.95)" fill="none" stroke="#9c9c9c" stroke-width="0.5"><path d="M1.6,-1.3A1.4,1.4 0 1 0 1.6,1.3"/><path d="M4.6,-1.3A1.4,1.4 0 1 0 4.6,1.3M3.3,0L4.3,0"/><circle cx="7.2" cy="0" r="1.35"/><path d="M9.6,-1.4L11.4,-1.4L10.5,0.6ZM9.6,1.4L11.4,1.4"/></g>
<path d="M700.8000000000001,198.2L781.6,198.2Q783.8000000000001,198.2 783.8000000000001,200.2L783.8000000000001,208.85L782.4000000000001,209.64999999999998L782.4000000000001,213.25L783.8000000000001,214.04999999999998L783.8000000000001,222.7Q783.8000000000001,224.7 781.6,224.7L700.8000000000001,224.7Q698.6,224.7 698.6,222.7L698.6,214.04999999999998L700.0,213.25L700.0,209.64999999999998L698.6,208.85L698.6,200.2Q698.6,198.2 700.8000000000001,198.2Z" fill="url(#gCtl)" stroke="#e0e0e0" stroke-width="0.5"/>
<rect x="704.2" y="199.79999999999998" width="74.0" height="22.9" rx="1" fill="#f3f3f3"/>
<circle cx="707.6" cy="204.80" r="1.25" fill="#24382c"/>
<circle cx="707.6" cy="208.80" r="1.25" fill="#24382c"/>
<rect x="707.3000000000001" y="213.57" width="0.5" height="5.83" fill="#d0d0d0"/>
<circle cx="775.6" cy="202.38" r="1.25" fill="#24382c"/><rect x="769.8000000000001" y="202.18" width="4" height="0.4" fill="#d4d4d4"/>
<circle cx="775.6" cy="206.12" r="1.25" fill="#24382c"/><rect x="769.8000000000001" y="205.93" width="4" height="0.4" fill="#d4d4d4"/>
<circle cx="775.6" cy="209.88" r="1.25" fill="#24382c"/><rect x="769.8000000000001" y="209.68" width="4" height="0.4" fill="#d4d4d4"/>
<circle cx="775.6" cy="213.62" r="1.25" fill="#24382c"/><rect x="769.8000000000001" y="213.43" width="4" height="0.4" fill="#d4d4d4"/>
<circle cx="775.6" cy="217.38" r="1.25" fill="#24382c"/><rect x="769.8000000000001" y="217.18" width="4" height="0.4" fill="#d4d4d4"/>
<circle cx="775.6" cy="221.12" r="1.25" fill="#24382c"/><rect x="769.8000000000001" y="220.93" width="4" height="0.4" fill="#d4d4d4"/>
<rect x="713.1" y="203.39999999999998" width="8.4" height="0.9" fill="#5a5a5a"/><rect x="723.1" y="203.0" width="7" height="0.4" fill="#c4c4c4"/><rect x="723.1" y="204.1" width="10" height="0.4" fill="#cfcfcf"/>
<rect x="713.1" y="208.6" width="28.1" height="0.9" fill="#8a8a8a"/><rect x="743.8" y="208.79999999999998" width="6" height="0.5" fill="#b8b8b8"/>
<rect x="713.1" y="211.60" width="17.0" height="0.4" fill="#d6d6d6"/>
<rect x="713.1" y="213.30" width="22.2" height="0.4" fill="#d6d6d6"/>
<rect x="713.1" y="215.00" width="15.3" height="0.4" fill="#d6d6d6"/>
<rect x="713.1" y="216.70" width="20.4" height="0.4" fill="#d6d6d6"/>
<rect x="713.1" y="218.40" width="12.8" height="0.4" fill="#d6d6d6"/>
<rect x="738.7" y="211.60" width="13.6" height="0.4" fill="#dadada"/>
<rect x="738.7" y="213.30" width="17.0" height="0.4" fill="#dadada"/>
<rect x="738.7" y="215.00" width="11.9" height="0.4" fill="#dadada"/>
<g transform="translate(754,219.29999999999998) scale(0.95)" fill="none" stroke="#9c9c9c" stroke-width="0.5"><path d="M1.6,-1.3A1.4,1.4 0 1 0 1.6,1.3"/><path d="M4.6,-1.3A1.4,1.4 0 1 0 4.6,1.3M3.3,0L4.3,0"/><circle cx="7.2" cy="0" r="1.35"/><path d="M9.6,-1.4L11.4,-1.4L10.5,0.6ZM9.6,1.4L11.4,1.4"/></g>
<path d="M796.6,198.2L877.5999999999999,198.2Q879.8,198.2 879.8,200.2L879.8,208.85L878.4,209.64999999999998L878.4,213.25L879.8,214.04999999999998L879.8,222.7Q879.8,224.7 877.5999999999999,224.7L796.6,224.7Q794.4,224.7 794.4,222.7L794.4,214.04999999999998L795.8,213.25L795.8,209.64999999999998L794.4,208.85L794.4,200.2Q794.4,198.2 796.6,198.2Z" fill="url(#gCtl)" stroke="#e0e0e0" stroke-width="0.5"/>
<rect x="800.0" y="199.79999999999998" width="74.2" height="22.9" rx="1" fill="#f3f3f3"/>
<circle cx="803.4" cy="204.80" r="1.25" fill="#24382c"/>
<circle cx="803.4" cy="208.80" r="1.25" fill="#24382c"/>
<rect x="803.1" y="213.57" width="0.5" height="5.83" fill="#d0d0d0"/>
<circle cx="871.5999999999999" cy="202.38" r="1.25" fill="#24382c"/><rect x="865.8" y="202.18" width="4" height="0.4" fill="#d4d4d4"/>
<circle cx="871.5999999999999" cy="206.12" r="1.25" fill="#24382c"/><rect x="865.8" y="205.93" width="4" height="0.4" fill="#d4d4d4"/>
<circle cx="871.5999999999999" cy="209.88" r="1.25" fill="#24382c"/><rect x="865.8" y="209.68" width="4" height="0.4" fill="#d4d4d4"/>
<circle cx="871.5999999999999" cy="213.62" r="1.25" fill="#24382c"/><rect x="865.8" y="213.43" width="4" height="0.4" fill="#d4d4d4"/>
<circle cx="871.5999999999999" cy="217.38" r="1.25" fill="#24382c"/><rect x="865.8" y="217.18" width="4" height="0.4" fill="#d4d4d4"/>
<circle cx="871.5999999999999" cy="221.12" r="1.25" fill="#24382c"/><rect x="865.8" y="220.93" width="4" height="0.4" fill="#d4d4d4"/>
<rect x="808.9" y="203.39999999999998" width="8.4" height="0.9" fill="#5a5a5a"/><rect x="818.9" y="203.0" width="7" height="0.4" fill="#c4c4c4"/><rect x="818.9" y="204.1" width="10" height="0.4" fill="#cfcfcf"/>
<rect x="808.9" y="208.6" width="28.2" height="0.9" fill="#8a8a8a"/><rect x="839.6" y="208.79999999999998" width="6" height="0.5" fill="#b8b8b8"/>
<rect x="808.9" y="211.60" width="17.1" height="0.4" fill="#d6d6d6"/>
<rect x="808.9" y="213.30" width="22.2" height="0.4" fill="#d6d6d6"/>
<rect x="808.9" y="215.00" width="15.4" height="0.4" fill="#d6d6d6"/>
<rect x="808.9" y="216.70" width="20.5" height="0.4" fill="#d6d6d6"/>
<rect x="808.9" y="218.40" width="12.8" height="0.4" fill="#d6d6d6"/>
<rect x="834.5" y="211.60" width="13.7" height="0.4" fill="#dadada"/>
<rect x="834.5" y="213.30" width="17.1" height="0.4" fill="#dadada"/>
<rect x="834.5" y="215.00" width="12.0" height="0.4" fill="#dadada"/>
<g transform="translate(865,219.29999999999998) scale(0.95)" fill="none" stroke="#9c9c9c" stroke-width="0.5"><path d="M1.6,-1.3A1.4,1.4 0 1 0 1.6,1.3"/><path d="M4.6,-1.3A1.4,1.4 0 1 0 4.6,1.3M3.3,0L4.3,0"/><circle cx="7.2" cy="0" r="1.35"/><path d="M9.6,-1.4L11.4,-1.4L10.5,0.6ZM9.6,1.4L11.4,1.4"/></g>
<rect x="837.1" y="204.39999999999998" width="7.6" height="9" fill="#c4c4c4"/><rect x="837.9" y="205.2" width="6" height="7.4" fill="#a4a4a4" opacity=".7"/><rect x="837.7" y="201.79999999999998" width="1.6" height="1.6" fill="#777"/><rect x="841.5" y="201.79999999999998" width="1.6" height="1.6" fill="#777"/>
<path d="M707.1,317L786.0999999999999,317Q788.3,317 788.3,319L788.3,328.2L786.9,329.0L786.9,332.6L788.3,333.40000000000003L788.3,342.6Q788.3,344.6 786.0999999999999,344.6L707.1,344.6Q704.9,344.6 704.9,342.6L704.9,333.40000000000003L706.3,332.6L706.3,329.0L704.9,328.2L704.9,319Q704.9,317 707.1,317Z" fill="url(#gCtl)" stroke="#e0e0e0" stroke-width="0.5"/>
<rect x="710.5" y="318.6" width="72.2" height="24.0" rx="1" fill="#f3f3f3"/>
<circle cx="713.9" cy="323.60" r="1.25" fill="#24382c"/>
<circle cx="713.9" cy="327.60" r="1.25" fill="#24382c"/>
<rect x="713.6" y="333.01" width="0.5" height="6.07" fill="#d0d0d0"/>
<circle cx="780.0999999999999" cy="321.73" r="1.25" fill="#24382c"/><rect x="774.3" y="321.53" width="4" height="0.4" fill="#d4d4d4"/>
<circle cx="780.0999999999999" cy="325.48" r="1.25" fill="#24382c"/><rect x="774.3" y="325.28" width="4" height="0.4" fill="#d4d4d4"/>
<circle cx="780.0999999999999" cy="329.23" r="1.25" fill="#24382c"/><rect x="774.3" y="329.03" width="4" height="0.4" fill="#d4d4d4"/>
<circle cx="780.0999999999999" cy="332.98" r="1.25" fill="#24382c"/><rect x="774.3" y="332.78" width="4" height="0.4" fill="#d4d4d4"/>
<circle cx="780.0999999999999" cy="336.73" r="1.25" fill="#24382c"/><rect x="774.3" y="336.53" width="4" height="0.4" fill="#d4d4d4"/>
<circle cx="780.0999999999999" cy="340.48" r="1.25" fill="#24382c"/><rect x="774.3" y="340.28" width="4" height="0.4" fill="#d4d4d4"/>
<rect x="719.4" y="322.2" width="8.4" height="0.9" fill="#5a5a5a"/><rect x="729.4" y="321.8" width="7" height="0.4" fill="#c4c4c4"/><rect x="729.4" y="322.9" width="10" height="0.4" fill="#cfcfcf"/>
<rect x="719.4" y="327.4" width="27.5" height="0.9" fill="#8a8a8a"/><rect x="749.4" y="327.6" width="6" height="0.5" fill="#b8b8b8"/>
<rect x="719.4" y="330.40" width="16.7" height="0.4" fill="#d6d6d6"/>
<rect x="719.4" y="332.10" width="21.7" height="0.4" fill="#d6d6d6"/>
<rect x="719.4" y="333.80" width="15.0" height="0.4" fill="#d6d6d6"/>
<rect x="719.4" y="335.50" width="20.0" height="0.4" fill="#d6d6d6"/>
<rect x="719.4" y="337.20" width="12.5" height="0.4" fill="#d6d6d6"/>
<rect x="744.4" y="330.40" width="13.3" height="0.4" fill="#dadada"/>
<rect x="744.4" y="332.10" width="16.7" height="0.4" fill="#dadada"/>
<rect x="744.4" y="333.80" width="11.7" height="0.4" fill="#dadada"/>
<g transform="translate(765,339.20000000000005) scale(0.95)" fill="none" stroke="#9c9c9c" stroke-width="0.5"><path d="M1.6,-1.3A1.4,1.4 0 1 0 1.6,1.3"/><path d="M4.6,-1.3A1.4,1.4 0 1 0 4.6,1.3M3.3,0L4.3,0"/><circle cx="7.2" cy="0" r="1.35"/><path d="M9.6,-1.4L11.4,-1.4L10.5,0.6ZM9.6,1.4L11.4,1.4"/></g>
<path d="M811.8000000000001,317L892.1999999999999,317Q894.4,317 894.4,319L894.4,328.2L893.0,329.0L893.0,332.6L894.4,333.40000000000003L894.4,342.6Q894.4,344.6 892.1999999999999,344.6L811.8000000000001,344.6Q809.6,344.6 809.6,342.6L809.6,333.40000000000003L811.0,332.6L811.0,329.0L809.6,328.2L809.6,319Q809.6,317 811.8000000000001,317Z" fill="url(#gCtl)" stroke="#e0e0e0" stroke-width="0.5"/>
<rect x="815.2" y="318.6" width="73.6" height="24.0" rx="1" fill="#f3f3f3"/>
<circle cx="818.6" cy="323.60" r="1.25" fill="#24382c"/>
<circle cx="818.6" cy="327.60" r="1.25" fill="#24382c"/>
<rect x="818.3000000000001" y="333.01" width="0.5" height="6.07" fill="#d0d0d0"/>
<circle cx="886.1999999999999" cy="323.60" r="1.25" fill="#24382c"/><rect x="880.4" y="323.40" width="4" height="0.4" fill="#d4d4d4"/>
<circle cx="886.1999999999999" cy="327.35" r="1.25" fill="#24382c"/><rect x="880.4" y="327.15" width="4" height="0.4" fill="#d4d4d4"/>
<circle cx="886.1999999999999" cy="331.10" r="1.25" fill="#24382c"/><rect x="880.4" y="330.90" width="4" height="0.4" fill="#d4d4d4"/>
<circle cx="886.1999999999999" cy="334.85" r="1.25" fill="#24382c"/><rect x="880.4" y="334.65" width="4" height="0.4" fill="#d4d4d4"/>
<circle cx="886.1999999999999" cy="338.60" r="1.25" fill="#24382c"/><rect x="880.4" y="338.40" width="4" height="0.4" fill="#d4d4d4"/>
<rect x="824.1" y="322.2" width="8.4" height="0.9" fill="#5a5a5a"/><rect x="834.1" y="321.8" width="7" height="0.4" fill="#c4c4c4"/><rect x="834.1" y="322.9" width="10" height="0.4" fill="#cfcfcf"/>
<rect x="824.1" y="327.4" width="28.0" height="0.9" fill="#8a8a8a"/><rect x="854.6" y="327.6" width="6" height="0.5" fill="#b8b8b8"/>
<rect x="824.1" y="330.40" width="17.0" height="0.4" fill="#d6d6d6"/>
<rect x="824.1" y="332.10" width="22.0" height="0.4" fill="#d6d6d6"/>
<rect x="824.1" y="333.80" width="15.3" height="0.4" fill="#d6d6d6"/>
<rect x="824.1" y="335.50" width="20.4" height="0.4" fill="#d6d6d6"/>
<rect x="824.1" y="337.20" width="12.7" height="0.4" fill="#d6d6d6"/>
<rect x="849.5" y="330.40" width="13.6" height="0.4" fill="#dadada"/>
<rect x="849.5" y="332.10" width="17.0" height="0.4" fill="#dadada"/>
<rect x="849.5" y="333.80" width="11.9" height="0.4" fill="#dadada"/>
<g transform="translate(840,339.20000000000005) scale(0.95)" fill="none" stroke="#9c9c9c" stroke-width="0.5"><path d="M1.6,-1.3A1.4,1.4 0 1 0 1.6,1.3"/><path d="M4.6,-1.3A1.4,1.4 0 1 0 4.6,1.3M3.3,0L4.3,0"/><circle cx="7.2" cy="0" r="1.35"/><path d="M9.6,-1.4L11.4,-1.4L10.5,0.6ZM9.6,1.4L11.4,1.4"/></g>
<rect x="56.6" y="483.5" width="54.9" height="30" rx="3.6" fill="#ebebeb" stroke="#e0e0e0" stroke-width="0.5"/><rect x="57.800000000000004" y="484.5" width="52.5" height="26.6" rx="3" fill="#f5f5f5"/>
<rect x="61.1" y="491.6" width="43.7" height="17" fill="url(#gLbl)"/>
<rect x="61.1" y="491.6" width="43.7" height="5" fill="url(#gLblS)" opacity=".8"/>
<rect x="66.1" y="493.0" width="12" height="0.8" fill="#d8c8c8" opacity=".75"/>
<rect x="64.7" y="496.0" width="36.7" height="0.5" fill="#f0b070" opacity=".8"/>
<rect x="64.9" y="496.90000000000003" width="17.4" height="2.6" fill="#dcaab4" opacity=".9"/>
<rect x="64.9" y="499.8" width="6" height="1" fill="#48b0c8" opacity=".85"/><rect x="71.6" y="499.8" width="10" height="0.8" fill="#c86a40" opacity=".7"/>
<rect x="64.9" y="502.2" width="12" height="0.6" fill="#8a5a6a" opacity=".8"/>
<rect x="64.9" y="504.1" width="9" height="0.6" fill="#7a4a5a" opacity=".8"/>
<rect x="64.9" y="506.0" width="11" height="0.6" fill="#8a4a4a" opacity=".8"/>
<g transform="translate(85.5,505.0) scale(1.32)" fill="none" stroke="#e6e6ee" stroke-width="0.5"><path d="M1.6,-1.3A1.4,1.4 0 1 0 1.6,1.3"/><path d="M4.6,-1.3A1.4,1.4 0 1 0 4.6,1.3M3.3,0L4.3,0"/><circle cx="7.2" cy="0" r="1.35"/><path d="M9.6,-1.4L11.4,-1.4L10.5,0.6ZM9.6,1.4L11.4,1.4"/></g>
<rect x="59.8" y="606.6" width="54.9" height="30.2" rx="3.6" fill="#ebebeb" stroke="#e0e0e0" stroke-width="0.5"/><rect x="61.0" y="607.6" width="52.5" height="26.8" rx="3" fill="#f5f5f5"/>
<rect x="64.3" y="614.7" width="43.7" height="17.2" fill="url(#gLbl)"/>
<rect x="64.3" y="614.7" width="43.7" height="5" fill="url(#gLblS)" opacity=".8"/>
<rect x="69.3" y="616.1" width="12" height="0.8" fill="#d8c8c8" opacity=".75"/>
<rect x="67.89999999999999" y="619.1" width="36.7" height="0.5" fill="#f0b070" opacity=".8"/>
<rect x="68.1" y="620.0" width="17.4" height="2.6" fill="#dcaab4" opacity=".9"/>
<rect x="68.1" y="622.9000000000001" width="6" height="1" fill="#48b0c8" opacity=".85"/><rect x="74.8" y="622.9000000000001" width="10" height="0.8" fill="#c86a40" opacity=".7"/>
<rect x="68.1" y="625.3" width="12" height="0.6" fill="#8a5a6a" opacity=".8"/>
<rect x="68.1" y="627.2" width="9" height="0.6" fill="#7a4a5a" opacity=".8"/>
<rect x="68.1" y="629.1" width="11" height="0.6" fill="#8a4a4a" opacity=".8"/>
<g transform="translate(88.69999999999999,628.3000000000001) scale(1.32)" fill="none" stroke="#e6e6ee" stroke-width="0.5"><path d="M1.6,-1.3A1.4,1.4 0 1 0 1.6,1.3"/><path d="M4.6,-1.3A1.4,1.4 0 1 0 4.6,1.3M3.3,0L4.3,0"/><circle cx="7.2" cy="0" r="1.35"/><path d="M9.6,-1.4L11.4,-1.4L10.5,0.6ZM9.6,1.4L11.4,1.4"/></g>
<rect x="132" y="606.6" width="55" height="30.2" rx="3.6" fill="#ebebeb" stroke="#e0e0e0" stroke-width="0.5"/><rect x="133.2" y="607.6" width="52.6" height="26.8" rx="3" fill="#f5f5f5"/>
<rect x="136.5" y="614.7" width="43.8" height="17.2" fill="url(#gLbl)"/>
<rect x="136.5" y="614.7" width="43.8" height="5" fill="url(#gLblS)" opacity=".8"/>
<rect x="141.5" y="616.1" width="12" height="0.8" fill="#d8c8c8" opacity=".75"/>
<rect x="140.1" y="619.1" width="36.8" height="0.5" fill="#f0b070" opacity=".8"/>
<rect x="140.3" y="620.0" width="17.4" height="2.6" fill="#dcaab4" opacity=".9"/>
<rect x="140.3" y="622.9000000000001" width="6" height="1" fill="#48b0c8" opacity=".85"/><rect x="147.0" y="622.9000000000001" width="10" height="0.8" fill="#c86a40" opacity=".7"/>
<rect x="140.3" y="625.3" width="12" height="0.6" fill="#8a5a6a" opacity=".8"/>
<rect x="140.3" y="627.2" width="9" height="0.6" fill="#7a4a5a" opacity=".8"/>
<rect x="140.3" y="629.1" width="11" height="0.6" fill="#8a4a4a" opacity=".8"/>
<g transform="translate(160.9,628.3000000000001) scale(1.32)" fill="none" stroke="#e6e6ee" stroke-width="0.5"><path d="M1.6,-1.3A1.4,1.4 0 1 0 1.6,1.3"/><path d="M4.6,-1.3A1.4,1.4 0 1 0 4.6,1.3M3.3,0L4.3,0"/><circle cx="7.2" cy="0" r="1.35"/><path d="M9.6,-1.4L11.4,-1.4L10.5,0.6ZM9.6,1.4L11.4,1.4"/></g>
<rect x="100.4" y="737.9" width="55" height="30.6" rx="3.6" fill="#ebebeb" stroke="#e0e0e0" stroke-width="0.5"/><rect x="101.60000000000001" y="738.9" width="52.6" height="27.200000000000003" rx="3" fill="#f5f5f5"/>
<rect x="104.9" y="746.0" width="43.8" height="17.6" fill="url(#gLbl)"/>
<rect x="104.9" y="746.0" width="43.8" height="5" fill="url(#gLblS)" opacity=".8"/>
<rect x="109.9" y="747.4" width="12" height="0.8" fill="#d8c8c8" opacity=".75"/>
<rect x="108.5" y="750.4" width="36.8" height="0.5" fill="#f0b070" opacity=".8"/>
<rect x="108.7" y="751.3" width="17.4" height="2.6" fill="#dcaab4" opacity=".9"/>
<rect x="108.7" y="754.2" width="6" height="1" fill="#48b0c8" opacity=".85"/><rect x="115.4" y="754.2" width="10" height="0.8" fill="#c86a40" opacity=".7"/>
<rect x="108.7" y="756.6" width="12" height="0.6" fill="#8a5a6a" opacity=".8"/>
<rect x="108.7" y="758.5" width="9" height="0.6" fill="#7a4a5a" opacity=".8"/>
<rect x="108.7" y="760.4" width="11" height="0.6" fill="#8a4a4a" opacity=".8"/>
<g transform="translate(129.3,760.0) scale(1.32)" fill="none" stroke="#e6e6ee" stroke-width="0.5"><path d="M1.6,-1.3A1.4,1.4 0 1 0 1.6,1.3"/><path d="M4.6,-1.3A1.4,1.4 0 1 0 4.6,1.3M3.3,0L4.3,0"/><circle cx="7.2" cy="0" r="1.35"/><path d="M9.6,-1.4L11.4,-1.4L10.5,0.6ZM9.6,1.4L11.4,1.4"/></g>
<rect x="166.8" y="738.2" width="54.6" height="30.4" rx="3.6" fill="#ebebeb" stroke="#e0e0e0" stroke-width="0.5"/><rect x="168.0" y="739.2" width="52.2" height="27.0" rx="3" fill="#f5f5f5"/>
<rect x="171.3" y="746.3000000000001" width="43.400000000000006" height="17.4" fill="url(#gLbl)"/>
<rect x="171.3" y="746.3000000000001" width="43.400000000000006" height="5" fill="url(#gLblS)" opacity=".8"/>
<rect x="176.3" y="747.7" width="12" height="0.8" fill="#d8c8c8" opacity=".75"/>
<rect x="174.9" y="750.7" width="36.400000000000006" height="0.5" fill="#f0b070" opacity=".8"/>
<rect x="175.10000000000002" y="751.6" width="17.4" height="2.6" fill="#dcaab4" opacity=".9"/>
<rect x="175.10000000000002" y="754.5000000000001" width="6" height="1" fill="#48b0c8" opacity=".85"/><rect x="181.8" y="754.5000000000001" width="10" height="0.8" fill="#c86a40" opacity=".7"/>
<rect x="175.10000000000002" y="756.9" width="12" height="0.6" fill="#8a5a6a" opacity=".8"/>
<rect x="175.10000000000002" y="758.8" width="9" height="0.6" fill="#7a4a5a" opacity=".8"/>
<rect x="175.10000000000002" y="760.7" width="11" height="0.6" fill="#8a4a4a" opacity=".8"/>
<g transform="translate(195.70000000000002,760.1) scale(1.32)" fill="none" stroke="#e6e6ee" stroke-width="0.5"><path d="M1.6,-1.3A1.4,1.4 0 1 0 1.6,1.3"/><path d="M4.6,-1.3A1.4,1.4 0 1 0 4.6,1.3M3.3,0L4.3,0"/><circle cx="7.2" cy="0" r="1.35"/><path d="M9.6,-1.4L11.4,-1.4L10.5,0.6ZM9.6,1.4L11.4,1.4"/></g>
<rect x="227.6" y="509" width="1.2" height="6.4" fill="#9c9c9c"/><rect x="235.8" y="509" width="1.2" height="6.4" fill="#9c9c9c"/>
<rect x="220.6" y="478.6" width="21.6" height="32.4" rx="1.6" fill="url(#gPT)"/><rect x="222" y="480" width="18.8" height="29.4" rx="1" fill="none" stroke="#c4c8c8" stroke-width="0.4" opacity=".7"/>
<rect x="54.4" y="372.3" width="161.6" height="20.5" fill="#f6f6f6" stroke="#cdcdcd" stroke-width="0.6"/>
<rect x="54.4" y="372.3" width="161.6" height="1.1" fill="#d0d0d0"/><rect x="54.4" y="391.7" width="161.6" height="1.1" fill="#cacaca"/>
<rect x="59.4" y="373.3" width="11.2" height="18.5" fill="#8a8a8c"/><rect x="61.9" y="376.8" width="5.6" height="11.5" fill="#d4d4d6"/><rect x="55.4" y="373.3" width="4" height="18.5" fill="#c8c8ca"/>
<rect x="200.60000000000002" y="373.3" width="11.2" height="18.5" fill="#16221c"/><rect x="203.7" y="379.7" width="5.2" height="6.1" fill="#c82c3c"/><rect x="211.8" y="373.3" width="3.2" height="18.5" fill="#d0d0d2"/>
<rect x="71.6" y="373.90000000000003" width="128.00000000000003" height="17.3" fill="#fbfbfb"/>
<rect x="76.7" y="378.4" width="6.4" height="8.2" fill="none" stroke="#dcdcdc" stroke-width="0.4"/>
<rect x="88.2" y="377.4" width="9.0" height="0.9" fill="#c84848"/><rect x="98.5" y="377.2" width="10.2" height="0.4" fill="#bbb"/><rect x="98.5" y="378.7" width="12.8" height="0.4" fill="#c8c8c8"/>
<rect x="88.2" y="381.1" width="24.3" height="0.9" fill="#7a4a4a"/>
<rect x="120.2" y="377.8" width="7.7" height="0.8" fill="#8a8aa0"/><rect x="120.2" y="380.5" width="11.5" height="0.4" fill="#ccc"/>
<path d="M157.4,377.0L161.2,384.0L153.5,384.0Z" fill="#fff" stroke="#444" stroke-width="0.7"/><rect x="157.2" y="379.5" width="0.5" height="2.8" fill="#444"/>
<rect x="162.9" y="377.0" width="9.0" height="0.4" fill="#999"/>
<rect x="162.9" y="379.2" width="15.4" height="0.4" fill="#c8c8c8"/>
<rect x="162.9" y="381.3" width="14.1" height="0.4" fill="#c8c8c8"/>
<rect x="162.9" y="383.5" width="17.9" height="0.4" fill="#c8c8c8"/>
<rect x="124.1" y="384.6" width="58.9" height="4.1" fill="none" stroke="#cfcfcf" stroke-width="0.35"/><rect x="124.1" y="386.4" width="58.9" height="0.35" fill="#cfcfcf"/>
<rect x="135.9" y="384.6" width="0.35" height="4.1" fill="#d4d4d4"/>
<rect x="141.7" y="384.6" width="0.35" height="4.1" fill="#d4d4d4"/>
<rect x="148.8" y="384.6" width="0.35" height="4.1" fill="#d4d4d4"/>
<rect x="162.4" y="384.6" width="0.35" height="4.1" fill="#d4d4d4"/>
<rect x="173.0" y="384.6" width="0.35" height="4.1" fill="#d4d4d4"/>
<g transform="translate(89.52,385.83000000000004) scale(0.75)" fill="none" stroke="#8a8a8a" stroke-width="0.5"><path d="M1.6,-1.3A1.4,1.4 0 1 0 1.6,1.3"/><path d="M4.6,-1.3A1.4,1.4 0 1 0 4.6,1.3M3.3,0L4.3,0"/><circle cx="7.2" cy="0" r="1.35"/><path d="M9.6,-1.4L11.4,-1.4L10.5,0.6ZM9.6,1.4L11.4,1.4"/></g>
<rect x="189.4" y="378.4" width="5.1" height="8.2" fill="none" stroke="#dcdcdc" stroke-width="0.4"/>
<rect x="232.4" y="744.6" width="138.6" height="19.6" fill="#f6f6f6" stroke="#dcdcdc" stroke-width="0.6"/>
<rect x="232.4" y="744.6" width="138.6" height="1.1" fill="#d0d0d0"/><rect x="232.4" y="763.1" width="138.6" height="1.1" fill="#cacaca"/>
<rect x="233.9" y="745.6" width="5.4" height="17.6" fill="#8a8a8c"/><rect x="235.1" y="748.9" width="2.7" height="11.0" fill="#d4d4d6"/><rect x="233.4" y="745.6" width="0.5" height="17.6" fill="#c8c8ca"/>
<rect x="364.8" y="745.6" width="5.2" height="17.6" fill="#2c6a48"/><rect x="366.3" y="751.7" width="2.4" height="5.9" fill="#7a2c34"/><rect x="370.0" y="745.6" width="0" height="17.6" fill="#d0d0d2"/>
<rect x="240.3" y="746.2" width="123.49999999999999" height="16.400000000000002" fill="#fbfbfb"/>
<rect x="245.2" y="750.5" width="6.2" height="7.8" fill="none" stroke="#dcdcdc" stroke-width="0.4"/>
<rect x="256.4" y="749.5" width="8.6" height="0.9" fill="#c84848"/><rect x="266.2" y="749.3" width="9.9" height="0.4" fill="#bbb"/><rect x="266.2" y="750.7" width="12.3" height="0.4" fill="#c8c8c8"/>
<rect x="256.4" y="753.0" width="23.5" height="0.9" fill="#7a4a4a"/>
<rect x="287.2" y="749.9" width="7.4" height="0.8" fill="#8a8aa0"/><rect x="287.2" y="752.4" width="11.1" height="0.4" fill="#ccc"/>
<path d="M323.0,749.1L326.7,755.8L319.4,755.8Z" fill="#fff" stroke="#444" stroke-width="0.7"/><rect x="322.8" y="751.4" width="0.5" height="2.7" fill="#444"/>
<rect x="328.4" y="749.1" width="8.6" height="0.4" fill="#999"/>
<rect x="328.4" y="751.2" width="14.8" height="0.4" fill="#c8c8c8"/>
<rect x="328.4" y="753.2" width="13.6" height="0.4" fill="#c8c8c8"/>
<rect x="328.4" y="755.3" width="17.3" height="0.4" fill="#c8c8c8"/>
<rect x="290.9" y="756.4" width="56.8" height="3.9" fill="none" stroke="#cfcfcf" stroke-width="0.35"/><rect x="290.9" y="758.1" width="56.8" height="0.35" fill="#cfcfcf"/>
<rect x="302.3" y="756.4" width="0.35" height="3.9" fill="#d4d4d4"/>
<rect x="308.0" y="756.4" width="0.35" height="3.9" fill="#d4d4d4"/>
<rect x="314.8" y="756.4" width="0.35" height="3.9" fill="#d4d4d4"/>
<rect x="327.9" y="756.4" width="0.35" height="3.9" fill="#d4d4d4"/>
<rect x="338.1" y="756.4" width="0.35" height="3.9" fill="#d4d4d4"/>
<g transform="translate(257.59000000000003,757.5360000000001) scale(0.75)" fill="none" stroke="#8a8a8a" stroke-width="0.5"><path d="M1.6,-1.3A1.4,1.4 0 1 0 1.6,1.3"/><path d="M4.6,-1.3A1.4,1.4 0 1 0 4.6,1.3M3.3,0L4.3,0"/><circle cx="7.2" cy="0" r="1.35"/><path d="M9.6,-1.4L11.4,-1.4L10.5,0.6ZM9.6,1.4L11.4,1.4"/></g>
<rect x="353.9" y="750.5" width="4.9" height="7.8" fill="none" stroke="#dcdcdc" stroke-width="0.4"/>
<rect x="705" y="368.4" width="232.4" height="26" fill="#f6f6f6" stroke="#cdcdcd" stroke-width="0.6"/>
<rect x="705" y="368.4" width="232.4" height="1.1" fill="#d0d0d0"/><rect x="705" y="393.29999999999995" width="232.4" height="1.1" fill="#cacaca"/>
<rect x="708" y="369.4" width="18" height="24" fill="#8a8a8c"/><rect x="712.0" y="374.1" width="9.0" height="14.6" fill="#d4d4d6"/><rect x="706" y="369.4" width="2" height="24" fill="#c8c8ca"/>
<rect x="916.4" y="369.4" width="17" height="24" fill="#8c8c8e"/><rect x="921.2" y="377.8" width="7.8" height="7.8" fill="#b41c24"/><rect x="933.4" y="369.4" width="3" height="24" fill="#d0d0d2"/>
<rect x="727" y="370.0" width="188.4" height="22.8" fill="#fbfbfb"/>
<rect x="734.5" y="376.2" width="9.4" height="10.4" fill="none" stroke="#dcdcdc" stroke-width="0.4"/>
<rect x="751.5" y="374.9" width="13.2" height="0.9" fill="#c84848"/><rect x="766.6" y="374.6" width="15.1" height="0.4" fill="#bbb"/><rect x="766.6" y="376.5" width="18.8" height="0.4" fill="#c8c8c8"/>
<rect x="751.5" y="379.6" width="35.8" height="1.2" fill="#444"/>
<rect x="798.6" y="375.4" width="11.3" height="0.8" fill="#8a8aa0"/><rect x="798.6" y="378.8" width="17.0" height="0.4" fill="#ccc"/>
<path d="M818.4,373.6L824.1,384.0L812.7,384.0Z" fill="#fff" stroke="#444" stroke-width="0.7"/><rect x="818.2" y="377.2" width="0.5" height="4.2" fill="#444"/>
<rect x="826.7" y="373.6" width="13.2" height="0.4" fill="#999"/>
<rect x="826.7" y="376.8" width="22.6" height="0.4" fill="#c8c8c8"/>
<rect x="826.7" y="380.0" width="20.7" height="0.4" fill="#c8c8c8"/>
<rect x="826.7" y="383.3" width="26.4" height="0.4" fill="#c8c8c8"/>
<rect x="751.5" y="384.0" width="113.0" height="5.2" fill="none" stroke="#cfcfcf" stroke-width="0.35"/><rect x="751.5" y="386.3" width="113.0" height="0.35" fill="#cfcfcf"/>
<rect x="774.1" y="384.0" width="0.35" height="5.2" fill="#d4d4d4"/>
<rect x="785.4" y="384.0" width="0.35" height="5.2" fill="#d4d4d4"/>
<rect x="799.0" y="384.0" width="0.35" height="5.2" fill="#d4d4d4"/>
<rect x="825.0" y="384.0" width="0.35" height="5.2" fill="#d4d4d4"/>
<rect x="845.3" y="384.0" width="0.35" height="5.2" fill="#d4d4d4"/>
<rect x="870.2" y="373.6" width="15.1" height="0.9" fill="#555"/><rect x="870.2" y="376.2" width="20.7" height="0.4" fill="#bbb"/>
<circle cx="873.0" cy="381.9" r="1.5" fill="none" stroke="#888" stroke-width="0.45"/>
<circle cx="880.9" cy="381.9" r="1.5" fill="none" stroke="#888" stroke-width="0.45"/>
<circle cx="888.8" cy="381.9" r="1.5" fill="none" stroke="#888" stroke-width="0.45"/>
<text x="869.4" y="390.8" font-size="5.4" font-weight="bold" fill="#1c1c1c" letter-spacing="-0.3">FC</text>
<g transform="translate(879.9808,389.07) scale(1.12)" fill="none" stroke="#222" stroke-width="0.5"><path d="M1.6,-1.3A1.4,1.4 0 1 0 1.6,1.3"/><path d="M4.6,-1.3A1.4,1.4 0 1 0 4.6,1.3M3.3,0L4.3,0"/><circle cx="7.2" cy="0" r="1.35"/><path d="M9.6,-1.4L11.4,-1.4L10.5,0.6ZM9.6,1.4L11.4,1.4"/></g>
<rect x="898.4" y="374.1" width="11.3" height="0.4" fill="#c4c4c4"/>
<rect x="898.4" y="378.3" width="11.3" height="0.4" fill="#c4c4c4"/>
<rect x="898.4" y="382.4" width="11.3" height="0.4" fill="#c4c4c4"/>
<rect x="898.4" y="386.6" width="11.3" height="0.4" fill="#c4c4c4"/>
<rect x="731.7" y="375.2" width="0.4" height="13.0" fill="#ccc"/><rect x="743.0" y="378.8" width="0.4" height="6.5" fill="#bbb"/>
<rect x="918.6" y="372.4" width="11.4" height="8" fill="#b81f28"/><rect x="918.6" y="381.8" width="11.4" height="8.4" fill="#9a1a22"/><rect x="918.6" y="380.2" width="11.4" height="1.6" fill="#3a1a1c"/>
<rect x="708" y="369.4" width="18" height="24" fill="#b8b8bc"/><rect x="720.4" y="369.4" width="5.6" height="24" fill="#8a8a8e"/><rect x="709.4" y="371.6" width="10" height="7.6" fill="#dededf"/><rect x="709.4" y="382.4" width="10" height="7.6" fill="#d0d0d2"/><rect x="717" y="374" width="3" height="14" fill="#6c6c6e"/>
<path d="M698.3,130L874.9,130L874.9,134L871,134L871,157.6L874.9,157.6L874.9,161.8L698.3,161.8L698.3,157.6L702,157.6L702,134L698.3,134Z" fill="#34343a"/>
<rect x="701.4" y="131" width="170" height="29.8" fill="url(#gPX)"/>
<rect x="720.6" y="133.4" width="78.6" height="25" fill="url(#pMesh)"/>
<rect x="731" y="138.6" width="8" height="1.6" fill="#a04a30" opacity=".8"/><rect x="731" y="144.6" width="9" height="1.8" fill="#b0482c" opacity=".8"/><rect x="733" y="151" width="8" height="2" fill="#2c5a8a" opacity=".7"/><rect x="752" y="140" width="14" height="14" fill="#2c4a34" opacity=".55"/>
<rect x="770.9" y="134.6" width="16.4" height="19.6" rx="2" fill="url(#pMeshY)"/>
<circle cx="793.9" cy="144.4" r="1.4" fill="#b8b8b8"/>
<rect x="800" y="131" width="22.6" height="29.8" fill="#36363a"/><rect x="803" y="135" width="9" height="0.6" fill="#88888c"/><rect x="803" y="138" width="14" height="0.4" fill="#6a6a6e"/><rect x="803" y="140" width="12" height="0.4" fill="#6a6a6e"/><rect x="803" y="150" width="15" height="0.4" fill="#66666a"/><rect x="803" y="153" width="12" height="0.4" fill="#66666a"/>
<rect x="823.4" y="131" width="39.4" height="29.8" fill="#505057"/><rect x="823.4" y="143" width="39.4" height="0.6" fill="#5a5a60"/><rect x="829" y="135.4" width="7" height="0.7" fill="#8a8a92"/><circle cx="828.4" cy="143.6" r="0.9" fill="#1a1a1c"/><rect x="834" y="143.2" width="4" height="0.6" fill="#7a7a80"/>
<circle cx="859.6" cy="138.4" r="0.6" fill="#a8a8b0"/>
<circle cx="859.6" cy="141.7" r="0.6" fill="#a8a8b0"/>
<circle cx="859.6" cy="145.0" r="0.6" fill="#a8a8b0"/>
<circle cx="859.6" cy="148.3" r="0.6" fill="#a8a8b0"/>
<circle cx="859.6" cy="151.6" r="0.6" fill="#a8a8b0"/>
<circle cx="859.6" cy="154.9" r="0.6" fill="#a8a8b0"/>
<rect x="704.2" y="137.7" width="8.8" height="15.3" fill="#b4b4b8"/><rect x="706" y="139.4" width="5" height="5.6" fill="#e8e8ea"/><rect x="706" y="146" width="5" height="5.6" fill="#e0e0e2"/>
<rect x="864" y="134" width="6" height="23.6" fill="#2c2c30"/><circle cx="866.8" cy="136" r="0.8" fill="#888"/><circle cx="866.8" cy="155.6" r="0.8" fill="#888"/><circle cx="716" cy="136" r="0.8" fill="#777"/><circle cx="716" cy="155.6" r="0.8" fill="#777"/>
<path d="M896,137.9L904.6,137.9L904.6,129.6L909.9,129.6L909.9,125.3L940.4,125.3L940.4,129.6L945.1,129.6L945.1,137.9L954.4,137.9L954.4,169.8L896,169.8Z" fill="#e9e9e6"/>
<rect x="896" y="158" width="58.4" height="11.8" fill="#e3e3df"/><rect x="905" y="143.9" width="40" height="14.2" fill="#eeeeeb"/><rect x="919.6" y="159.6" width="10" height="5.4" fill="#dadad6"/>
<rect x="909.9" y="125.3" width="30.5" height="18.6" fill="#f8f8f7" stroke="#e4e4e2" stroke-width="0.4"/>
<g transform="translate(915.6,128) rotate(90)"><g transform="translate(0,0) scale(0.9)" fill="none" stroke="#4a4a4a" stroke-width="0.5"><path d="M1.6,-1.3A1.4,1.4 0 1 0 1.6,1.3"/><path d="M4.6,-1.3A1.4,1.4 0 1 0 4.6,1.3M3.3,0L4.3,0"/><circle cx="7.2" cy="0" r="1.35"/><path d="M9.6,-1.4L11.4,-1.4L10.5,0.6ZM9.6,1.4L11.4,1.4"/></g></g>
<rect x="931.6" y="127.4" width="0.8" height="6.4" fill="#c85858"/><rect x="929.4" y="127.4" width="0.5" height="13" fill="#b4b4b4"/><rect x="927.6" y="127.4" width="0.5" height="10" fill="#c8c8c8"/><rect x="921.6" y="136" width="0.4" height="5" fill="#d0d0d0"/><rect x="935" y="138" width="3.6" height="2.4" fill="none" stroke="#dcdcdc" stroke-width="0.3"/>
<rect x="897.3" y="139.6" width="5.8" height="15.6" rx="1" fill="#9ad08a" opacity=".45"/><rect x="897.9" y="140.2" width="4.5" height="14.3" rx="0.8" fill="#3e7a3c"/>
<rect x="898.6" y="141.3" width="3.1" height="1.5" fill="#27472a"/>
<rect x="898.6" y="144.0" width="3.1" height="1.5" fill="#27472a"/>
<rect x="898.6" y="146.7" width="3.1" height="1.5" fill="#27472a"/>
<rect x="898.6" y="149.4" width="3.1" height="1.5" fill="#27472a"/>
<rect x="898.6" y="152.1" width="3.1" height="1.5" fill="#27472a"/>
<rect x="947.1999999999999" y="139.6" width="5.8" height="15.6" rx="1" fill="#9ad08a" opacity=".45"/><rect x="947.8" y="140.2" width="4.5" height="14.3" rx="0.8" fill="#3e7a3c"/>
<rect x="948.5" y="141.3" width="3.1" height="1.5" fill="#27472a"/>
<rect x="948.5" y="144.0" width="3.1" height="1.5" fill="#27472a"/>
<rect x="948.5" y="146.7" width="3.1" height="1.5" fill="#27472a"/>
<rect x="948.5" y="149.4" width="3.1" height="1.5" fill="#27472a"/>
<rect x="948.5" y="152.1" width="3.1" height="1.5" fill="#27472a"/>
<rect x="954" y="154.5" width="2.8" height="7.3" rx="0.5" fill="#8c3242"/>
<path d="M693.8,476C697,484 708,491 719,493.6L722.5,495L726,493.4C735,490 742,483 744.2,476Z" fill="url(#gDome)"/>
<ellipse cx="718.9" cy="474.6" rx="25.4" ry="9.2" fill="#f2f2f2" stroke="#c4c4c4" stroke-width="0.5"/><ellipse cx="718.9" cy="474.2" rx="22.8" ry="7.4" fill="#b2b2b4"/><ellipse cx="718.9" cy="474.2" rx="22.8" ry="7.4" fill="url(#pDiag)"/>
<rect x="721.6" y="485" width="1.6" height="5" fill="#8a8a8a"/>
<path d="M755.2,485C755.2,474 764,463.5 782.6,461.4C801,463.5 810.1,474 810.1,485C810.1,491.5 798,495.5 782.6,495.5C767,495.5 755.2,491.5 755.2,485Z" fill="url(#gDome)"/>
<ellipse cx="782.6" cy="471.4" rx="22.4" ry="10" fill="#f6f6f6"/><ellipse cx="782.6" cy="470.6" rx="17" ry="7.3" fill="#bcbcc0"/><ellipse cx="782.6" cy="470.6" rx="17" ry="7.3" fill="url(#pDots)" opacity=".45"/>
<ellipse cx="835.7" cy="488" rx="14.8" ry="6.8" fill="url(#gSteel)"/><ellipse cx="835.7" cy="489.2" rx="14.8" ry="6.6" fill="#8e8a86" opacity=".5"/><ellipse cx="835.7" cy="487.6" rx="14.6" ry="6.4" fill="url(#gSteel)"/><ellipse cx="835.7" cy="487.8" rx="6.4" ry="2.6" fill="#fff"/>
<rect x="821.9" y="466" width="0.9" height="21" fill="#9a9a9a"/><rect x="847.8" y="466" width="0.9" height="21" fill="#9a9a9a"/>
<path d="M820.4,462L823,476.6Q835.7,481.4 846.9,476.6L849.6,462Z" fill="url(#gSteel)"/>
<ellipse cx="835.7" cy="459.6" rx="20.8" ry="9" fill="#8e8a84"/><ellipse cx="835.7" cy="458.8" rx="20.8" ry="8.8" fill="#b4b0aa"/><ellipse cx="835.7" cy="458.4" rx="12.9" ry="5.7" fill="#e6ecee" stroke="#8a8884" stroke-width="0.9"/><ellipse cx="835.7" cy="458.4" rx="10.6" ry="4.2" fill="url(#pDots)" opacity=".45"/>
<path d="M841.3,477.6Q848,478.6 868,478" fill="none" stroke="#222" stroke-width="0.8"/>
<path d="M873.4,482L872.6,490L897.8,497L898.4,470M898,496.2L886,486" fill="none" stroke="#141414" stroke-width="1.8" stroke-linejoin="round"/>
<g transform="translate(883.4,466.4) rotate(12)"><ellipse cx="1.6" cy="1.2" rx="14.4" ry="19.4" fill="#141414"/><ellipse rx="14.4" ry="19.4" fill="#141414"/><ellipse cx="-1" cy="-0.4" rx="11" ry="16" fill="#38383a"/><circle cx="-10.9" cy="-2.1" r="1.25" fill="#f0f0f0"/><circle cx="-10.9" cy="1.4" r="1.25" fill="#f0f0f0"/><circle cx="-7.6" cy="-10.9" r="1.25" fill="#f0f0f0"/><circle cx="-7.6" cy="-7.4" r="1.25" fill="#f0f0f0"/><circle cx="-7.6" cy="-3.9" r="1.25" fill="#f0f0f0"/><circle cx="-7.6" cy="-0.4" r="1.25" fill="#f0f0f0"/><circle cx="-7.6" cy="3.1" r="1.25" fill="#f0f0f0"/><circle cx="-7.6" cy="6.6" r="1.25" fill="#f0f0f0"/><circle cx="-7.6" cy="10.1" r="1.25" fill="#f0f0f0"/><circle cx="-4.3" cy="-12.7" r="1.25" fill="#f0f0f0"/><circle cx="-4.3" cy="-9.2" r="1.25" fill="#f0f0f0"/><circle cx="-4.3" cy="-5.7" r="1.25" fill="#f0f0f0"/><circle cx="-4.3" cy="-2.1" r="1.25" fill="#f0f0f0"/><circle cx="-4.3" cy="1.4" r="1.25" fill="#f0f0f0"/><circle cx="-4.3" cy="4.8" r="1.25" fill="#f0f0f0"/><circle cx="-4.3" cy="8.3" r="1.25" fill="#f0f0f0"/><circle cx="-4.3" cy="11.8" r="1.25" fill="#f0f0f0"/><circle cx="-1.0" cy="-14.4" r="1.25" fill="#f0f0f0"/><circle cx="-1.0" cy="-10.9" r="1.25" fill="#f0f0f0"/><circle cx="-1.0" cy="-7.4" r="1.25" fill="#f0f0f0"/><circle cx="-1.0" cy="-3.9" r="1.25" fill="#f0f0f0"/><circle cx="-1.0" cy="-0.4" r="1.25" fill="#f0f0f0"/><circle cx="-1.0" cy="3.1" r="1.25" fill="#f0f0f0"/><circle cx="-1.0" cy="6.6" r="1.25" fill="#f0f0f0"/><circle cx="-1.0" cy="10.1" r="1.25" fill="#f0f0f0"/><circle cx="-1.0" cy="13.6" r="1.25" fill="#f0f0f0"/><circle cx="2.3" cy="-12.7" r="1.25" fill="#f0f0f0"/><circle cx="2.3" cy="-9.2" r="1.25" fill="#f0f0f0"/><circle cx="2.3" cy="-5.7" r="1.25" fill="#f0f0f0"/><circle cx="2.3" cy="-2.1" r="1.25" fill="#f0f0f0"/><circle cx="2.3" cy="1.4" r="1.25" fill="#f0f0f0"/><circle cx="2.3" cy="4.8" r="1.25" fill="#f0f0f0"/><circle cx="2.3" cy="8.3" r="1.25" fill="#f0f0f0"/><circle cx="2.3" cy="11.8" r="1.25" fill="#f0f0f0"/><circle cx="5.6" cy="-10.9" r="1.25" fill="#f0f0f0"/><circle cx="5.6" cy="-7.4" r="1.25" fill="#f0f0f0"/><circle cx="5.6" cy="-3.9" r="1.25" fill="#f0f0f0"/><circle cx="5.6" cy="-0.4" r="1.25" fill="#f0f0f0"/><circle cx="5.6" cy="3.1" r="1.25" fill="#f0f0f0"/><circle cx="5.6" cy="6.6" r="1.25" fill="#f0f0f0"/><circle cx="5.6" cy="10.1" r="1.25" fill="#f0f0f0"/><circle cx="8.9" cy="-2.1" r="1.25" fill="#f0f0f0"/><circle cx="8.9" cy="1.4" r="1.25" fill="#f0f0f0"/></g>
<path d="M899,478Q906,484 914,482" fill="none" stroke="#c4c4c4" stroke-width="0.6"/>
<clipPath id="cRL"><rect x="900" y="430" width="70" height="106"/></clipPath>
<g clip-path="url(#cRL)"><path d="M908,484L920,481L920.6,483L908.4,486Z" fill="#3a3a3a"/><path d="M919.6,468L975,460.6L975,478L921,487Z" fill="url(#gBar)"/><path d="M919.6,468L975,460.6L975,463L920,470.6Z" fill="#e4e4e6"/><path d="M922,472.6L975,465.4L975,469.6L922.4,477Z" fill="#8a8e98"/><path d="M922,474L975,466.8L975,468L922.2,475.4Z" fill="#c4c8d4"/><path d="M962,482L970,481L970,491Q965,492 962.6,489Z" fill="#b0b0b0"/><rect x="927" y="484.6" width="2" height="4" fill="#aaa"/></g>
<use href="#r088" x="398.10" y="177.60"/>
<use href="#r089" x="437.20" y="172.30"/>
<use href="#r092" x="475.20" y="177.40"/>
<use href="#r095" x="514.00" y="185.20"/>
<use href="#r096" x="554.10" y="185.60"/>
<use href="#pB8" x="398.20" y="255.10"/>
<use href="#pB4" x="445.20" y="265.20"/>
<use href="#pB3" x="495.30" y="265.20"/>
<use href="#pB0" x="545.10" y="265.20"/>
<use href="#wlbox" x="398.60" y="311.60"/>
<use href="#r088" x="398.20" y="425.90"/>
<use href="#r092" transform="translate(436.00,425.60) scale(1.0080,1.0080)"/>
<use href="#r089" transform="translate(473.20,420.40) scale(1.0000,1.0100)"/>
<use href="#pB8" x="509.10" y="445.30"/>
<use href="#pB4" x="398.20" y="504.60"/>
<use href="#pB0" x="449.10" y="504.60"/>
<use href="#wlbox" x="495.40" y="504.90"/>
<use href="#r092" transform="translate(398.50,564.50) scale(1.0300,0.9970)"/>
<use href="#r095" x="437.00" y="571.90"/>
<use href="#r096" transform="translate(474.80,571.90) scale(1.0200,1.0050)"/>
<use href="#pB3" x="398.20" y="644.00"/>
<use href="#pB4" x="445.20" y="644.00"/>
<use href="#wlbox" transform="translate(490.50,644.00) scale(1.0000,1.0200)"/>
<use href="#r006" x="398.40" y="704.00"/>
<use href="#r006" x="437.00" y="704.00"/>
<use href="#r091" x="475.90" y="704.00"/>
<use href="#r087" x="511.80" y="723.20"/>
<use href="#pB1" x="399.10" y="776.30"/>
<use href="#pB2" x="445.20" y="776.30"/>
<use href="#wlbox" x="491.30" y="776.60"/>
<use href="#r088" transform="translate(983.90,95.20) scale(1.0000,1.0120)"/>
<use href="#r089" transform="translate(1017.30,90.10) scale(1.0150,1.0140)"/>
<use href="#r092" transform="translate(1048.90,95.10) scale(1.0200,1.0080)"/>
<use href="#r096" transform="translate(1084.30,102.90) scale(1.0300,1.0140)"/>
<use href="#r006" transform="translate(1118.40,106.00) scale(0.9700,1.0160)"/>
<use href="#r006" transform="translate(1155.50,106.00) scale(0.9900,1.0160)"/>
<use href="#r091" transform="translate(1192.90,106.00) scale(1.0100,1.0160)"/>
<use href="#r087" transform="translate(983.90,175.40) scale(1.0000,0.9750)"/>
<use href="#pB0" x="1027.00" y="177.80"/>
<use href="#pB1" x="1068.10" y="177.80"/>
<use href="#pB2" x="1109.50" y="177.80"/>
<use href="#pB3" x="1150.80" y="177.80"/>
<use href="#pB4" x="1192.20" y="177.80"/>
<use href="#pB8" x="984.00" y="223.00"/>
<use href="#wlbox" transform="translate(1022.20,228.40) scale(0.9950,1.0200)"/>
<use href="#r006" transform="translate(984.20,300.30) scale(0.9800,1.0000)"/>
<use href="#r006" transform="translate(1022.50,300.30) scale(0.9950,1.0000)"/>
<use href="#r091" transform="translate(1061.50,300.30) scale(1.0050,1.0000)"/>
<use href="#r087" transform="translate(1098.60,319.00) scale(0.9780,1.0120)"/>
<use href="#pB1" x="984.30" y="373.20"/>
<use href="#pB2" x="1032.00" y="373.20"/>
<use href="#wlbox" transform="translate(1079.50,373.40) scale(1.0050,1.0100)"/>
<use href="#r086" transform="translate(986.40,439.30) scale(0.9960,1.0120)"/>
<use href="#wl433" x="1025.50" y="448.10"/>
<g opacity="0.999">
<text x="73.00" y="189.78" font-size="6.1" fill="#4a4a4a" text-anchor="middle">FUT012</text>
<text x="112.80" y="189.78" font-size="6.1" fill="#4a4a4a" text-anchor="middle">FUT013</text>
<text x="150.20" y="189.78" font-size="6.1" fill="#4a4a4a" text-anchor="middle">FUT014</text>
<text x="190.60" y="189.78" font-size="6.1" fill="#4a4a4a" text-anchor="middle">FUT105</text>
<text x="230.40" y="189.78" font-size="6.1" fill="#4a4a4a" text-anchor="middle">FUT018</text>
<text x="279.00" y="189.78" font-size="6.1" fill="#4a4a4a" text-anchor="middle">FUT103</text>
<text x="330.00" y="189.78" font-size="6.1" fill="#4a4a4a" text-anchor="middle">FUT104</text>
<text x="70.50" y="244.78" font-size="6.1" fill="#4a4a4a" text-anchor="middle">FUT060</text>
<text x="117.30" y="244.78" font-size="6.1" fill="#4a4a4a" text-anchor="middle">FUT061</text>
<text x="164.00" y="244.78" font-size="6.1" fill="#4a4a4a" text-anchor="middle">FUT062</text>
<text x="208.00" y="244.78" font-size="6.1" fill="#4a4a4a" text-anchor="middle">FUT063</text>
<text x="251.00" y="244.78" font-size="6.1" fill="#4a4a4a" text-anchor="middle">FUT064</text>
<text x="293.00" y="244.78" font-size="6.1" fill="#4a4a4a" text-anchor="middle">FUT065</text>
<text x="344.50" y="244.78" font-size="6.1" fill="#4a4a4a" text-anchor="middle">FUT066</text>
<text x="73.70" y="303.78" font-size="6.1" fill="#4a4a4a" text-anchor="middle">FUT068</text>
<text x="117.60" y="303.78" font-size="6.1" fill="#4a4a4a" text-anchor="middle">FUT069</text>
<text x="160.40" y="303.78" font-size="6.1" fill="#4a4a4a" text-anchor="middle" textLength="40.9" lengthAdjust="spacing">RL1-24 / RL2-48</text>
<text x="200.50" y="303.78" font-size="6.1" fill="#4a4a4a" text-anchor="middle" textLength="20.9" lengthAdjust="spacing">FUTC04</text>
<text x="237.80" y="303.78" font-size="6.1" fill="#4a4a4a" text-anchor="middle" textLength="40.2" lengthAdjust="spacing">FUTC01/FUTC02</text>
<text x="275.40" y="303.78" font-size="6.1" fill="#4a4a4a" text-anchor="middle" textLength="21.1" lengthAdjust="spacing">FUTC03</text>
<text x="308.40" y="303.78" font-size="6.1" fill="#4a4a4a" text-anchor="middle" textLength="21.1" lengthAdjust="spacing">FUTC05</text>
<text x="345.30" y="303.78" font-size="6.1" fill="#4a4a4a" text-anchor="middle" textLength="20.8" lengthAdjust="spacing">FUTC06</text>
<text x="73.30" y="357.98" font-size="6.1" fill="#4a4a4a" text-anchor="middle" textLength="20.6" lengthAdjust="spacing">FUTL03</text>
<text x="134.70" y="357.98" font-size="6.1" fill="#4a4a4a" text-anchor="middle" textLength="25.2" lengthAdjust="spacing">POW-LH1</text>
<text x="184.50" y="357.98" font-size="6.1" fill="#4a4a4a" text-anchor="middle" textLength="21.0" lengthAdjust="spacing">FUTT06</text>
<text x="215.30" y="357.98" font-size="6.1" fill="#4a4a4a" text-anchor="middle" textLength="20.6" lengthAdjust="spacing">FUTT05</text>
<text x="245.60" y="357.98" font-size="6.1" fill="#4a4a4a" text-anchor="middle" textLength="20.7" lengthAdjust="spacing">FUTT04</text>
<text x="278.30" y="357.98" font-size="6.1" fill="#4a4a4a" text-anchor="middle" textLength="20.4" lengthAdjust="spacing">FUTT03</text>
<text x="312.20" y="357.98" font-size="6.1" fill="#4a4a4a" text-anchor="middle" textLength="20.4" lengthAdjust="spacing">FUTT02</text>
<text x="346.20" y="357.98" font-size="6.1" fill="#4a4a4a" text-anchor="middle" textLength="20.4" lengthAdjust="spacing">FUTT07</text>
<text x="135.00" y="400.48" font-size="6.1" fill="#4a4a4a" text-anchor="middle">PL5</text>
<text x="92.60" y="470.18" font-size="6.1" fill="#4a4a4a" text-anchor="middle">FUT043</text>
<text x="172.00" y="470.18" font-size="6.1" fill="#4a4a4a" text-anchor="middle">FUT044</text>
<text x="255.70" y="471.88" font-size="6.1" fill="#4a4a4a" text-anchor="middle">FUT045</text>
<text x="84.60" y="524.98" font-size="6.1" fill="#4a4a4a" text-anchor="middle">FUT039</text>
<text x="160.00" y="525.58" font-size="6.1" fill="#4a4a4a" text-anchor="middle" textLength="20.5" lengthAdjust="spacing">SYS-T1</text>
<text x="232.60" y="525.58" font-size="6.1" fill="#4a4a4a" text-anchor="middle" textLength="23.8" lengthAdjust="spacing">SYS-PT1</text>
<text x="87.50" y="646.58" font-size="6.1" fill="#4a4a4a" text-anchor="middle">FUT037</text>
<text x="159.70" y="646.58" font-size="6.1" fill="#4a4a4a" text-anchor="middle">FUT038</text>
<text x="70.20" y="787.18" font-size="6.1" fill="#4a4a4a" text-anchor="middle">FUT011</text>
<text x="127.90" y="787.18" font-size="6.1" fill="#4a4a4a" text-anchor="middle">FUT035</text>
<text x="194.00" y="787.18" font-size="6.1" fill="#4a4a4a" text-anchor="middle">FUT036</text>
<text x="301.70" y="787.18" font-size="6.1" fill="#4a4a4a" text-anchor="middle">PL2</text>
<text x="801.80" y="179.48" font-size="6.1" fill="#4a4a4a" text-anchor="middle">PX1</text>
<text x="925.00" y="179.48" font-size="6.1" fill="#4a4a4a" text-anchor="middle">LS2S</text>
<text x="737.00" y="236.18" font-size="6.1" fill="#4a4a4a" text-anchor="middle">LS2</text>
<text x="835.00" y="236.18" font-size="6.1" fill="#4a4a4a" text-anchor="middle">WL5</text>
<text x="743.80" y="354.78" font-size="6.1" fill="#4a4a4a" text-anchor="middle">LS3</text>
<text x="847.00" y="354.78" font-size="6.1" fill="#4a4a4a" text-anchor="middle">LS4</text>
<text x="819.90" y="404.78" font-size="6.1" fill="#4a4a4a" text-anchor="middle">PL1</text>
<text x="718.70" y="506.48" font-size="6.1" fill="#4a4a4a" text-anchor="middle">PW01</text>
<text x="779.80" y="506.48" font-size="6.1" fill="#4a4a4a" text-anchor="middle">UW01 / UW02</text>
<text x="835.90" y="506.48" font-size="6.1" fill="#4a4a4a" text-anchor="middle">UW03</text>
<text x="885.70" y="506.48" font-size="6.1" fill="#4a4a4a" text-anchor="middle">FUTC05L</text>
<text x="946.70" y="506.48" font-size="6.1" fill="#4a4a4a" text-anchor="middle">RL1-24L</text>
<text x="410.20" y="249.70" font-size="4.9" fill="#757575" text-anchor="middle" textLength="15.53" lengthAdjust="spacingAndGlyphs">FUT088</text>
<text x="448.60" y="249.70" font-size="4.9" fill="#757575" text-anchor="middle" textLength="15.53" lengthAdjust="spacingAndGlyphs">FUT089</text>
<text x="487.80" y="249.70" font-size="4.9" fill="#757575" text-anchor="middle" textLength="15.53" lengthAdjust="spacingAndGlyphs">FUT092</text>
<text x="527.20" y="249.70" font-size="4.9" fill="#757575" text-anchor="middle" textLength="15.53" lengthAdjust="spacingAndGlyphs">FUT095</text>
<text x="566.80" y="249.70" font-size="4.9" fill="#757575" text-anchor="middle" textLength="15.53" lengthAdjust="spacingAndGlyphs">FUT096</text>
<text x="415.00" y="306.00" font-size="4.9" fill="#757575" text-anchor="middle" textLength="5.26" lengthAdjust="spacingAndGlyphs">B8</text>
<text x="463.00" y="306.00" font-size="4.9" fill="#757575" text-anchor="middle" textLength="13.78" lengthAdjust="spacingAndGlyphs">B4 / T4</text>
<text x="513.00" y="306.00" font-size="4.9" fill="#757575" text-anchor="middle" textLength="13.78" lengthAdjust="spacingAndGlyphs">B3 / T3</text>
<text x="562.70" y="306.00" font-size="4.9" fill="#757575" text-anchor="middle" textLength="5.26" lengthAdjust="spacingAndGlyphs">B0</text>
<text x="422.20" y="353.00" font-size="4.9" fill="#757575" text-anchor="middle" textLength="17.68" lengthAdjust="spacingAndGlyphs">WL-Box1</text>
<text x="410.00" y="498.00" font-size="4.9" fill="#757575" text-anchor="middle" textLength="15.53" lengthAdjust="spacingAndGlyphs">FUT088</text>
<text x="448.60" y="498.00" font-size="4.9" fill="#757575" text-anchor="middle" textLength="15.53" lengthAdjust="spacingAndGlyphs">FUT092</text>
<text x="484.70" y="498.00" font-size="4.9" fill="#757575" text-anchor="middle" textLength="15.53" lengthAdjust="spacingAndGlyphs">FUT089</text>
<text x="525.60" y="498.00" font-size="4.9" fill="#757575" text-anchor="middle" textLength="5.26" lengthAdjust="spacingAndGlyphs">B8</text>
<text x="416.00" y="546.60" font-size="4.9" fill="#757575" text-anchor="middle" textLength="13.78" lengthAdjust="spacingAndGlyphs">B4 / T4</text>
<text x="467.00" y="546.60" font-size="4.9" fill="#757575" text-anchor="middle" textLength="5.26" lengthAdjust="spacingAndGlyphs">B0</text>
<text x="518.70" y="546.60" font-size="4.9" fill="#757575" text-anchor="middle" textLength="17.68" lengthAdjust="spacingAndGlyphs">WL-Box1</text>
<text x="411.30" y="636.60" font-size="4.9" fill="#757575" text-anchor="middle" textLength="15.53" lengthAdjust="spacingAndGlyphs">FUT092</text>
<text x="449.80" y="636.60" font-size="4.9" fill="#757575" text-anchor="middle" textLength="15.53" lengthAdjust="spacingAndGlyphs">FUT095</text>
<text x="487.60" y="636.60" font-size="4.9" fill="#757575" text-anchor="middle" textLength="15.53" lengthAdjust="spacingAndGlyphs">FUT096</text>
<text x="416.00" y="686.00" font-size="4.9" fill="#757575" text-anchor="middle" textLength="13.78" lengthAdjust="spacingAndGlyphs">B3 / T3</text>
<text x="462.70" y="686.00" font-size="4.9" fill="#757575" text-anchor="middle" textLength="13.78" lengthAdjust="spacingAndGlyphs">B4 / T4</text>
<text x="514.30" y="686.00" font-size="4.9" fill="#757575" text-anchor="middle" textLength="17.68" lengthAdjust="spacingAndGlyphs">WL-Box1</text>
<text x="412.20" y="766.80" font-size="4.9" fill="#757575" text-anchor="middle" textLength="15.53" lengthAdjust="spacingAndGlyphs">FUT006</text>
<text x="450.30" y="766.80" font-size="4.9" fill="#757575" text-anchor="middle" textLength="15.53" lengthAdjust="spacingAndGlyphs">FUT007</text>
<text x="488.00" y="767.00" font-size="4.9" fill="#757575" text-anchor="middle" textLength="15.53" lengthAdjust="spacingAndGlyphs">FUT091</text>
<text x="416.50" y="817.80" font-size="4.9" fill="#757575" text-anchor="middle" textLength="13.78" lengthAdjust="spacingAndGlyphs">B1 / T1</text>
<text x="463.20" y="817.80" font-size="4.9" fill="#757575" text-anchor="middle" textLength="13.78" lengthAdjust="spacingAndGlyphs">B2 / T2</text>
<text x="515.00" y="818.00" font-size="4.9" fill="#757575" text-anchor="middle" textLength="17.68" lengthAdjust="spacingAndGlyphs">WL-Box1</text>
<text x="996.00" y="167.80" font-size="4.9" fill="#757575" text-anchor="middle" textLength="15.53" lengthAdjust="spacingAndGlyphs">FUT088</text>
<text x="1028.90" y="167.80" font-size="4.9" fill="#757575" text-anchor="middle" textLength="15.53" lengthAdjust="spacingAndGlyphs">FUT089</text>
<text x="1061.80" y="167.80" font-size="4.9" fill="#757575" text-anchor="middle" textLength="15.53" lengthAdjust="spacingAndGlyphs">FUT092</text>
<text x="1096.90" y="167.80" font-size="4.9" fill="#757575" text-anchor="middle" textLength="15.53" lengthAdjust="spacingAndGlyphs">FUT096</text>
<text x="1131.70" y="169.20" font-size="4.9" fill="#757575" text-anchor="middle" textLength="15.53" lengthAdjust="spacingAndGlyphs">FUT006</text>
<text x="1170.00" y="169.20" font-size="4.9" fill="#757575" text-anchor="middle" textLength="15.53" lengthAdjust="spacingAndGlyphs">FUT007</text>
<text x="1207.20" y="169.40" font-size="4.9" fill="#757575" text-anchor="middle" textLength="15.53" lengthAdjust="spacingAndGlyphs">FUT091</text>
<text x="1002.90" y="218.30" font-size="4.9" fill="#757575" text-anchor="middle" textLength="15.53" lengthAdjust="spacingAndGlyphs">FUT087</text>
<text x="1044.50" y="218.30" font-size="4.9" fill="#757575" text-anchor="middle" textLength="5.26" lengthAdjust="spacingAndGlyphs">B0</text>
<text x="1085.40" y="219.50" font-size="4.9" fill="#757575" text-anchor="middle" textLength="13.78" lengthAdjust="spacingAndGlyphs">B1 / T1</text>
<text x="1126.70" y="219.50" font-size="4.9" fill="#757575" text-anchor="middle" textLength="13.78" lengthAdjust="spacingAndGlyphs">B2 / T2</text>
<text x="1167.00" y="218.30" font-size="4.9" fill="#757575" text-anchor="middle" textLength="13.78" lengthAdjust="spacingAndGlyphs">B3 / T3</text>
<text x="1203.80" y="218.30" font-size="4.9" fill="#757575" text-anchor="middle" textLength="13.78" lengthAdjust="spacingAndGlyphs">B4 / T4</text>
<text x="1000.50" y="273.80" font-size="4.9" fill="#757575" text-anchor="middle" textLength="5.26" lengthAdjust="spacingAndGlyphs">B8</text>
<text x="1046.40" y="273.80" font-size="4.9" fill="#757575" text-anchor="middle" textLength="17.68" lengthAdjust="spacingAndGlyphs">WL-Box1</text>
<text x="998.00" y="362.90" font-size="4.9" fill="#757575" text-anchor="middle" textLength="15.53" lengthAdjust="spacingAndGlyphs">FUT006</text>
<text x="1036.00" y="362.90" font-size="4.9" fill="#757575" text-anchor="middle" textLength="15.53" lengthAdjust="spacingAndGlyphs">FUT007</text>
<text x="1073.90" y="363.60" font-size="4.9" fill="#757575" text-anchor="middle" textLength="15.53" lengthAdjust="spacingAndGlyphs">FUT091</text>
<text x="1117.20" y="363.60" font-size="4.9" fill="#757575" text-anchor="middle" textLength="15.53" lengthAdjust="spacingAndGlyphs">FUT087</text>
<text x="1002.20" y="415.00" font-size="4.9" fill="#757575" text-anchor="middle" textLength="13.78" lengthAdjust="spacingAndGlyphs">B1 / T1</text>
<text x="1049.90" y="415.00" font-size="4.9" fill="#757575" text-anchor="middle" textLength="13.78" lengthAdjust="spacingAndGlyphs">B2 / T2</text>
<text x="1103.50" y="416.00" font-size="4.9" fill="#757575" text-anchor="middle" textLength="17.68" lengthAdjust="spacingAndGlyphs">WL-Box1</text>
<text x="997.50" y="517.80" font-size="4.9" fill="#757575" text-anchor="middle" textLength="15.53" lengthAdjust="spacingAndGlyphs">FUT086</text>
<text x="1054.00" y="517.80" font-size="4.9" fill="#757575" text-anchor="middle" textLength="15.06" lengthAdjust="spacingAndGlyphs">WL-433</text>
<text x="530.60" y="767.20" font-size="4.9" fill="#303030" text-anchor="middle" textLength="15.53" lengthAdjust="spacingAndGlyphs">FUT087</text>
</g></svg></body></html>
